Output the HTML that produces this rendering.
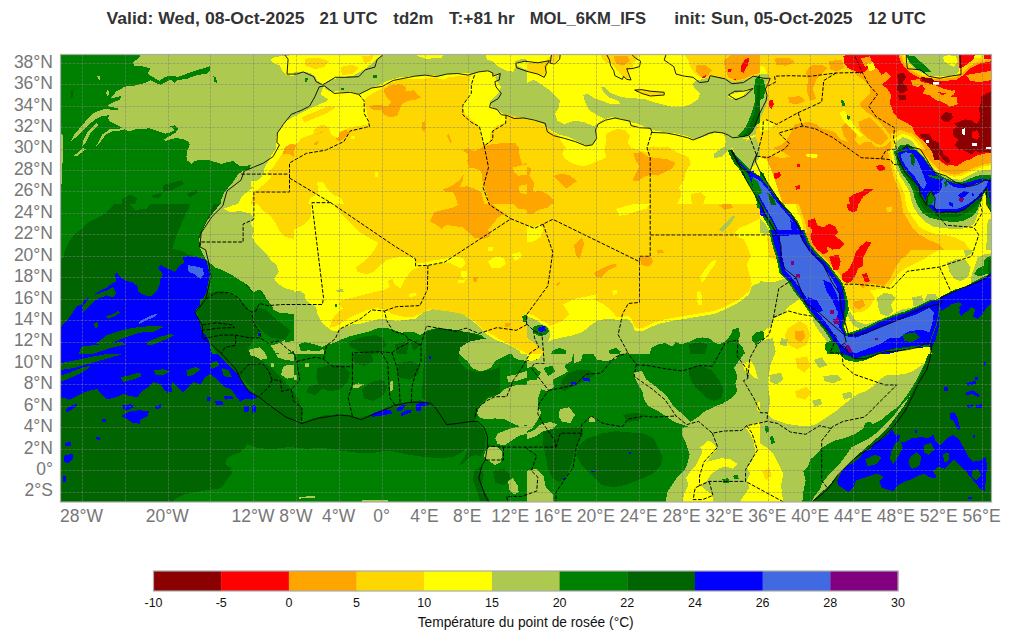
<!DOCTYPE html>
<html><head><meta charset="utf-8"><title>td2m</title>
<style>html,body{margin:0;padding:0;background:#fff}svg{display:block}text{font-family:"Liberation Sans",sans-serif}</style></head><body>
<svg width="1011" height="641" viewBox="0 0 1011 641">
<rect width="1011" height="641" fill="#fff"/>
<g font-weight="bold" font-size="16.5" fill="#333">
<text x="106.5" y="24.4" textLength="198.1" lengthAdjust="spacingAndGlyphs">Valid: Wed, 08-Oct-2025</text>
<text x="319.6" y="24.4" textLength="58.0" lengthAdjust="spacingAndGlyphs">21 UTC</text>
<text x="393.3" y="24.4" textLength="40.2" lengthAdjust="spacingAndGlyphs">td2m</text>
<text x="448.9" y="24.4" textLength="65.8" lengthAdjust="spacingAndGlyphs">T:+81 hr</text>
<text x="529.7" y="24.4" textLength="116.4" lengthAdjust="spacingAndGlyphs">MOL_6KM_IFS</text>
<text x="674.2" y="24.4" textLength="178.4" lengthAdjust="spacingAndGlyphs">init: Sun, 05-Oct-2025</text>
<text x="867.9" y="24.4" textLength="58.1" lengthAdjust="spacingAndGlyphs">12 UTC</text>
</g>
<defs><clipPath id="mapclip"><rect x="60.5" y="54.5" width="931.0" height="447.5"/></clipPath></defs>
<g clip-path="url(#mapclip)" shape-rendering="crispEdges">
<rect x="60.5" y="54.5" width="931.0" height="447.5" fill="#adc94f"/>
<clipPath id="tc0"><rect x="60" y="54" width="234" height="150"/></clipPath>
<g clip-path="url(#tc0)">
<rect x="60" y="54" width="234" height="150" fill="#adc94f"/>
<path d="M58.8,52.8 141.9,52.8 138.4,58.7 132.5,62.2 134.4,65.7 141.9,66.2 150.1,68.5 147.8,73.9 153.6,77.4 159.5,80.9 164.1,77.4 170.0,75.5 178.2,76.9 186.4,73.9 194.6,70.8 202.8,68.5 209.8,66.2 210.5,70.4 206.3,73.9 200.4,74.6 193.4,76.2 187.5,78.6 177.0,80.2 174.7,83.3 171.2,79.3 165.3,82.1 160.6,84.9 154.8,82.6 150.1,80.2 144.2,83.3 134.9,85.6 123.2,86.8 121.3,89.1 116.2,91.4 113.4,95.0 110.3,98.5 121.3,96.1 119.7,99.6 110.3,103.6 106.8,106.0 118.5,108.3 118.0,110.2 104.5,109.0 95.1,112.0 88.1,118.4 82.2,125.4 74.0,134.7 70.5,141.8 77.6,135.9 83.4,130.1 89.3,124.2 95.1,119.5 102.1,116.0 109.1,115.3 108.0,118.4 110.3,121.9 115.0,124.2 121.3,127.0 125.5,130.1 130.2,131.2 137.2,128.9 150.1,128.4 158.3,131.2 165.3,133.6 170.0,132.4 174.7,130.1 170.0,126.1 174.7,125.4 178.2,128.4 175.8,132.4 170.0,135.9 164.1,139.4 165.3,141.1 174.7,138.2 181.7,138.7 187.5,141.1 189.9,144.1 187.5,150.0 186.4,157.0 187.5,160.5 191.1,164.0 194.6,161.2 200.4,159.8 209.8,160.5 215.6,162.1 221.5,164.0 227.3,162.1 233.2,161.2 240.2,166.3 250.7,165.2 249.6,168.7 242.5,171.0 237.9,174.5 234.4,180.4 228.5,187.4 223.8,193.2 221.5,199.1 220.3,204.9 58.8,204.9Z" fill="#008000"/>
<path d="M123.2,128.4 110.3,128.9 102.1,134.7 97.4,144.1 95.1,147.6 99.8,142.9 105.6,134.7 112.7,131.2 124.4,130.1Z" fill="#adc94f"/>
<path d="M96.3,123.0 88.1,131.2 83.4,140.6 82.2,146.4 85.7,142.9 90.4,133.6 98.6,125.4Z" fill="#adc94f"/>
<path d="M83.4,147.6 74.0,155.8 76.4,156.5 85.7,149.5Z" fill="#adc94f"/>
<path d="M58.8,133.6 62.8,134.7 62.3,183.9 58.8,183.9Z" fill="#adc94f"/>
<path d="M97.4,76.2 100.3,75.5 99.8,79.7 98.1,79.3Z" fill="#adc94f"/>
<path d="M106.8,89.1 109.1,91.4 108.0,97.3 106.3,93.8Z" fill="#adc94f"/>
<path d="M213.3,76.2 216.3,77.4 216.8,82.6 214.5,82.1Z" fill="#008000"/>
<path d="M163.0,185.1 181.7,180.4 184.0,183.9 172.3,189.7 163.0,192.1Z" fill="#006400"/>
<path d="M151.3,195.6 163.0,192.5 160.6,197.2 153.6,198.6Z" fill="#006400"/>
<path d="M186.4,194.4 195.7,189.7 198.1,192.1 189.9,197.9Z" fill="#006400"/>
<path d="M122.0,199.1 130.2,194.4 137.2,197.9 134.9,204.9 122.0,204.9Z" fill="#006400"/>
<path d="M70.5,90.3 73.6,89.1 72.9,97.3 70.5,98.5Z" fill="#006400"/>
<path d="M294.0,55.2 282.3,55.9 274.1,57.5 270.2,59.9 274.1,63.4 280.0,65.7 282.3,70.4 285.8,74.6 294.0,76.2Z" fill="#ffff00"/>
<path d="M294.0,123.0 284.7,125.4 278.8,130.1 276.5,135.9 278.8,141.8 276.5,147.6 271.8,154.6 268.3,161.7 264.8,169.8 262.4,175.7 257.8,180.4 254.2,181.5 253.1,187.4 247.2,192.1 241.4,196.8 237.9,204.9 294.0,204.9Z" fill="#ffff00"/>
<path d="M250.7,180.4 254.2,181.5 253.8,187.4 250.7,186.2Z" fill="#ffff00"/>
<path d="M294.0,140.6 288.2,142.9 284.7,147.6 281.2,152.3 276.5,159.3 270.6,168.7 267.1,173.4 271.8,176.9 265.9,182.7 258.9,188.6 254.2,192.1 251.9,199.1 250.7,204.9 294.0,204.9Z" fill="#ffd700"/>
<path d="M294.0,144.1 287.0,145.3 282.3,150.0 283.5,154.6 288.2,153.5 294.0,157.0Z" fill="#ffa500"/>
</g>
<clipPath id="tc1"><rect x="294" y="54" width="233" height="150"/></clipPath>
<g clip-path="url(#tc1)">
<rect x="294" y="54" width="233" height="150" fill="#ffd700"/>
<path d="M292.8,52.8 385.3,52.8 374.7,61.0 367.7,66.9 361.9,70.8 353.7,75.5 340.8,77.4 329.1,80.2 323.3,85.6 315.1,84.4 292.8,84.4Z" fill="#ffff00"/>
<path d="M304.5,58.7 317.4,57.5 329.1,61.0 324.4,66.9 315.1,69.2 305.7,65.7Z" fill="#ffd700"/>
<path d="M340.8,66.9 352.5,64.5 358.4,68.0 352.5,73.9 342.0,75.1Z" fill="#ffd700"/>
<path d="M361.9,56.3 373.6,55.2 371.2,61.0 364.2,63.4Z" fill="#ffd700"/>
<path d="M292.8,110.2 317.4,82.1 364.2,89.1 387.6,77.4 411.0,73.9 434.4,73.9 457.8,70.4 471.9,71.6 471.9,75.1 457.8,76.2 448.5,77.4 443.8,79.7 434.4,77.4 425.1,78.6 411.0,78.6 399.3,79.7 390.0,83.3 382.9,87.9 373.6,92.6 366.5,97.3 364.2,100.8 361.9,104.3 354.8,106.7 347.8,105.0 340.8,106.7 333.8,109.0 326.8,110.2 322.1,113.7 315.1,118.4 308.0,123.0 303.4,126.5 298.7,131.2 292.8,134.7Z" fill="#ffff00"/>
<path d="M471.9,71.6 481.2,69.2 488.2,69.2 495.3,72.7 502.3,73.9 502.3,86.8 498.8,92.6 494.1,97.3 489.4,102.0 491.8,106.7 497.6,110.2 503.5,113.7 505.8,118.4 504.6,123.0 497.6,125.4 491.8,130.1 489.4,135.9 490.6,141.8 484.7,145.3 481.2,138.2 478.9,128.9 475.4,123.0 468.4,117.2 463.7,111.3 462.5,105.5 467.2,99.6 468.4,91.4 469.5,82.1 470.7,76.2Z" fill="#ffff00"/>
<path d="M316.2,181.5 323.3,182.2 326.8,188.6 332.6,194.4 340.8,197.9 344.3,204.9 308.0,204.9 310.4,197.9 317.4,194.4 318.6,187.4Z" fill="#ffff00"/>
<path d="M374.7,172.2 378.2,172.2 378.2,176.9 374.7,176.9Z" fill="#ffff00"/>
<path d="M351.3,135.9 354.8,135.9 354.4,139.4 351.3,139.4Z" fill="#ffff00"/>
<path d="M292.8,72.7 302.2,71.6 309.2,72.7 315.1,76.2 317.4,80.9 323.3,84.0 329.1,80.2 340.8,77.4 353.7,75.5 361.9,70.8 367.7,66.9 374.7,61.0 384.1,52.8 528.0,52.8 528.0,119.5 518.7,117.2 509.3,114.8 503.5,113.7 497.6,110.2 491.8,106.7 489.4,102.0 494.1,97.3 498.8,92.6 501.1,86.8 497.6,82.1 495.3,77.4 499.9,73.9 494.1,75.1 488.2,70.4 481.2,70.8 474.2,73.9 467.2,73.2 457.8,72.7 448.5,73.9 439.1,76.2 429.7,74.6 420.4,75.5 411.0,76.2 399.3,77.4 387.6,80.9 380.6,84.4 371.2,87.9 364.2,91.4 358.4,93.8 350.2,91.4 340.8,92.6 332.6,91.9 326.8,90.3 324.0,86.8 322.1,89.1 320.9,95.0 329.1,99.6 331.4,102.0 322.1,104.3 315.1,107.8 308.0,112.0 302.2,116.7 297.5,121.9 292.8,122.3Z" fill="#adc94f"/>
<path d="M484.7,52.8 487.1,59.9 492.9,61.0 498.8,66.9 505.8,70.4 512.8,71.6 516.3,66.9 515.2,61.0 522.2,58.7 528.0,59.9 528.0,52.8Z" fill="#ffff00"/>
<path d="M516.3,62.2 524.5,61.0 528.0,64.5 528.0,70.4 522.2,68.0 517.5,65.7Z" fill="#ffff00"/>
<path d="M415.7,52.8 443.8,52.8 441.4,58.2 425.1,58.7 418.0,56.3Z" fill="#ffff00"/>
<path d="M384.1,89.1 390.0,85.6 399.3,84.4 406.3,86.8 405.2,91.4 413.4,90.3 418.0,95.0 421.5,97.3 415.7,99.6 408.7,100.8 401.7,104.3 399.3,110.2 397.0,116.0 390.0,117.2 384.1,114.8 381.8,110.2 373.6,110.2 368.9,106.7 373.6,105.0 382.9,105.5 387.6,106.7 391.1,102.0 386.4,97.3 384.1,92.6Z" fill="#ffa500"/>
<path d="M483.6,146.4 492.9,144.1 504.6,142.9 515.2,142.9 518.7,147.6 519.8,157.0 522.2,164.0 528.0,162.8 528.0,204.9 489.4,204.9 487.1,194.4 484.7,187.4 482.4,180.4 481.2,171.0 476.5,168.7 469.5,167.5 467.2,161.7 468.4,154.6 462.5,150.0 467.2,148.8 475.4,151.1Z" fill="#ffa500"/>
<path d="M512.8,167.5 528.0,164.0 528.0,174.5 518.7,175.7 514.0,172.2Z" fill="#ffd700"/>
<path d="M518.7,186.2 528.0,183.9 528.0,194.4 519.8,193.2Z" fill="#ffd700"/>
<path d="M442.6,189.7 453.1,185.1 459.0,180.4 463.7,174.5 462.5,181.5 459.0,187.4 467.2,186.2 474.2,188.6 481.2,192.1 484.7,204.9 457.8,204.9 455.5,196.8 453.1,192.1 446.1,192.1Z" fill="#ffa500"/>
<path d="M313.9,130.1 320.9,126.5 325.6,127.7 322.1,132.4 316.2,134.7Z" fill="#ffa500"/>
<path d="M337.3,135.9 340.8,131.2 346.7,130.1 349.0,133.6 344.3,138.2 339.6,141.8 336.1,139.4Z" fill="#ffa500"/>
<path d="M421.5,121.9 424.6,121.4 425.1,131.2 422.2,130.1Z" fill="#ffa500"/>
<path d="M446.6,134.7 448.5,134.3 452.0,141.8 450.3,142.9Z" fill="#ffa500"/>
<path d="M313.9,142.9 319.7,140.6 317.4,144.1 314.6,145.7Z" fill="#ffa500"/>
<path d="M304.5,78.6 308.5,77.9 306.9,81.6 304.5,81.6Z" fill="#008000"/>
<path d="M372.4,74.6 377.1,74.6 377.1,77.9 373.6,77.9Z" fill="#008000"/>
<path d="M340.8,87.5 343.8,87.5 343.8,89.8 340.8,89.8Z" fill="#008000"/>
</g>
<clipPath id="tc2"><rect x="527" y="54" width="233" height="150"/></clipPath>
<g clip-path="url(#tc2)">
<rect x="527" y="54" width="233" height="150" fill="#ffff00"/>
<path d="M525.8,119.5 536.4,121.4 544.6,125.4 550.4,131.2 557.4,134.7 562.1,142.9 565.6,147.6 562.1,153.5 565.6,159.3 573.8,164.0 583.2,166.3 590.2,164.0 599.5,160.5 606.6,157.0 604.2,150.0 606.6,140.6 605.4,134.7 611.2,131.2 618.3,128.9 625.3,130.1 630.0,135.9 627.6,142.9 631.1,147.6 638.2,150.0 646.4,152.3 648.7,147.6 653.4,146.4 660.4,147.6 667.4,146.4 676.8,152.3 688.5,157.0 690.8,164.0 686.1,171.0 683.8,180.4 679.1,187.4 681.5,194.4 676.8,204.9 525.8,204.9Z" fill="#ffd700"/>
<path d="M690.8,194.4 700.2,192.1 706.0,196.8 702.5,204.9 692.0,204.9Z" fill="#ffd700"/>
<path d="M633.5,153.5 641.7,152.3 648.7,157.0 658.1,158.1 667.4,159.3 675.6,162.8 672.1,168.7 665.1,172.2 658.1,175.7 651.0,174.5 644.0,176.9 637.0,181.5 632.3,180.4 635.8,173.4 639.3,166.3 635.8,160.5Z" fill="#ffa500"/>
<path d="M553.9,175.7 562.1,173.4 570.3,175.7 577.3,181.5 572.6,183.9 566.8,188.6 562.1,185.1 557.4,180.4Z" fill="#ffa500"/>
<path d="M525.8,166.3 531.7,168.7 529.3,175.7 534.0,182.7 532.9,192.1 539.9,190.9 548.1,194.4 552.7,199.1 555.1,204.9 525.8,204.9Z" fill="#ffa500"/>
<path d="M525.8,83.3 534.0,79.7 541.0,84.4 548.1,89.1 555.1,95.0 559.8,100.8 558.6,107.8 555.1,113.7 557.4,120.7 564.4,124.2 573.8,120.7 583.2,121.9 589.0,124.2 593.7,126.5 597.2,124.2 604.2,118.4 594.9,113.7 589.0,110.2 586.7,105.5 584.3,99.6 583.2,95.0 587.8,93.8 594.9,98.5 601.9,100.8 611.2,104.3 620.6,104.3 618.3,100.8 608.9,97.3 603.1,91.4 600.7,86.8 604.2,86.8 610.1,92.6 618.3,96.1 627.6,98.0 637.0,98.5 646.4,99.6 653.4,102.0 662.7,104.3 672.1,106.7 681.5,107.4 690.8,104.3 697.8,99.6 700.2,93.8 695.5,89.1 692.0,84.4 695.5,80.9 704.9,78.6 714.2,76.2 721.2,77.4 728.3,79.7 735.3,82.1 744.6,79.7 754.0,76.2 761.0,73.9 761.0,133.6 751.7,135.9 747.0,138.2 737.6,137.1 725.9,134.7 721.2,132.4 711.9,133.6 702.5,137.1 694.3,139.4 686.1,135.9 676.8,133.6 667.4,132.4 658.1,131.2 648.7,128.9 639.3,124.2 630.0,121.9 620.6,118.4 611.2,117.2 604.2,119.5 598.4,124.2 596.0,131.2 597.2,138.2 592.5,144.1 586.7,145.3 578.5,141.8 569.1,137.1 559.8,134.7 550.4,130.1 543.4,124.2 536.4,120.7 525.8,118.4Z" fill="#adc94f"/>
<path d="M723.6,133.6 737.6,137.1 747.0,139.4 744.6,144.1 737.6,146.4 730.6,148.8 725.9,152.3 721.2,157.0 714.2,158.1 714.2,153.5 718.9,150.0 724.8,146.4 725.9,140.6Z" fill="#adc94f"/>
<path d="M732.9,147.6 761.0,133.6 761.0,154.6 755.2,164.0 750.5,169.8 745.8,168.7 740.0,162.8 735.3,155.8Z" fill="#adc94f"/>
<path d="M728.3,95.0 737.6,92.6 747.0,89.1 751.7,88.6 745.8,92.6 742.3,97.3 732.9,98.9 728.7,98.0Z" fill="#ffff00"/>
<path d="M634.7,89.1 644.0,90.3 655.7,91.4 663.9,91.9 662.7,94.3 653.4,95.7 644.0,94.3 635.8,91.9Z" fill="#ffd700"/>
<path d="M600.7,52.8 639.3,52.8 637.0,59.9 632.3,63.4 633.5,68.0 627.6,70.4 630.0,77.4 626.5,79.7 621.8,75.1 617.1,70.4 612.4,64.5 605.4,62.2 601.9,58.7Z" fill="#ffd700"/>
<path d="M613.6,56.3 627.6,55.9 630.0,61.0 623.0,65.7 615.9,63.4Z" fill="#ffa500"/>
<path d="M525.8,63.4 536.4,62.2 545.7,61.0 550.4,56.3 553.9,52.8 559.8,55.2 555.1,62.2 548.1,64.5 544.6,73.9 541.0,76.2 534.0,72.7 525.8,71.6Z" fill="#ffd700"/>
<path d="M683.8,52.8 688.5,61.0 690.8,68.0 695.5,73.9 700.2,77.4 704.9,78.6 714.2,76.2 721.2,77.4 728.3,79.7 735.3,82.1 744.6,79.7 754.0,76.2 761.0,73.9 761.0,52.8Z" fill="#ffd700"/>
<path d="M695.5,65.7 704.9,64.5 711.9,70.4 707.2,76.2 701.4,77.4 696.7,72.7Z" fill="#ffa500"/>
<path d="M723.6,61.0 732.9,52.8 761.0,52.8 761.0,72.7 751.7,75.1 744.6,78.6 735.3,80.9 728.3,77.4 725.9,70.4Z" fill="#ffa500"/>
<path d="M741.1,65.7 744.6,59.9 749.3,57.5 748.2,64.5 743.5,72.7 741.1,71.6Z" fill="#ff0000"/>
<path d="M728.3,69.2 731.8,68.5 731.1,71.6 728.3,71.6Z" fill="#ff0000"/>
<path d="M701.4,77.4 706.0,75.1 704.9,78.6Z" fill="#ff0000"/>
<path d="M732.9,78.6 736.5,78.6 735.3,80.2Z" fill="#ff0000"/>
<path d="M761.0,73.9 755.2,79.7 754.0,89.1 755.2,100.8 751.7,112.5 748.2,121.9 743.5,130.1 737.6,136.4 743.5,137.1 749.3,134.7 755.2,126.5 761.0,121.9Z" fill="#008000"/>
<path d="M757.5,84.4 761.0,83.3 761.0,114.8 755.2,124.2 749.3,133.6 743.5,135.9 749.3,126.5 754.0,114.8 756.3,100.8Z" fill="#006400"/>
<path d="M757.5,124.2 761.0,121.9 761.0,147.6 758.7,145.3 755.2,135.9Z" fill="#ffd700"/>
<path d="M727.8,150.0 731.1,149.5 735.3,157.0 740.0,164.0 745.8,169.8 750.5,171.0 751.7,175.7 757.5,185.1 761.0,188.6 761.0,204.9 757.5,204.9 755.2,196.8 750.5,187.4 744.6,178.0 738.8,168.7 732.9,160.5 729.4,154.6Z" fill="#008000"/>
<path d="M728.7,151.1 730.6,151.1 734.1,159.3 737.6,165.2 736.0,165.9 731.8,159.3Z" fill="#006400"/>
<path d="M748.2,173.4 752.8,176.9 757.5,186.2 761.0,189.7 761.0,204.9 758.7,204.9 756.3,196.8 751.7,187.4 748.2,179.2Z" fill="#006400"/>
<path d="M749.3,172.2 753.5,171.0 755.2,175.7 751.7,176.9Z" fill="#0000ff"/>
<path d="M757.5,190.9 761.0,189.7 761.0,200.3 758.2,199.1Z" fill="#0000ff"/>
</g>
<clipPath id="tc3"><rect x="760" y="54" width="233" height="150"/></clipPath>
<g clip-path="url(#tc3)">
<rect x="760" y="54" width="233" height="150" fill="#ffa500"/>
<path d="M758.8,52.8 845.4,52.8 844.2,63.4 853.6,72.7 863.0,79.7 870.0,86.8 870.0,93.8 864.1,99.6 859.5,104.3 865.3,111.3 872.3,116.0 879.4,121.9 885.2,128.9 889.9,134.7 891.1,140.6 886.4,145.3 879.4,147.6 874.7,146.4 871.2,141.8 865.3,141.8 859.5,145.3 854.8,140.6 857.1,132.4 853.6,124.2 846.6,121.9 841.9,126.5 843.1,134.7 847.8,141.8 840.7,139.4 834.9,132.4 829.0,130.1 822.0,128.9 816.2,124.2 809.1,121.9 802.1,123.0 795.1,124.2 791.6,131.2 786.9,139.4 781.1,145.3 774.0,147.6 769.4,152.3 758.8,154.6Z" fill="#ffd700"/>
<path d="M810.3,65.7 820.8,64.5 827.9,68.0 822.0,73.9 816.2,79.7 812.7,89.1 816.2,98.5 810.3,100.8 806.8,91.4 808.0,79.7 805.6,72.7Z" fill="#ffa500"/>
<path d="M829.0,61.0 841.9,59.9 844.2,68.0 837.2,71.6 830.2,69.2Z" fill="#ffa500"/>
<path d="M788.1,97.3 799.8,96.1 805.6,100.8 797.4,104.3 789.3,103.1Z" fill="#ffa500"/>
<path d="M858.3,121.9 870.0,117.2 881.7,128.9 888.7,138.2 881.7,145.3 874.7,142.9 867.7,138.2 860.6,131.2Z" fill="#ffa500"/>
<path d="M774.0,58.7 788.1,57.5 795.1,62.2 785.7,65.7 776.4,64.5Z" fill="#ffa500"/>
<path d="M758.8,121.9 767.0,120.7 774.0,124.2 769.4,128.9 762.3,131.2 758.8,132.4Z" fill="#ffff00"/>
<path d="M805.6,153.5 818.5,154.6 816.2,158.1 806.8,157.0Z" fill="#ffff00"/>
<path d="M839.6,112.5 844.2,110.2 848.9,117.2 853.6,124.2 858.3,131.2 863.0,135.9 859.5,137.1 853.6,131.2 846.6,124.2 841.9,118.4Z" fill="#ffff00"/>
<path d="M758.8,65.7 764.7,66.9 767.0,73.9 758.8,75.1Z" fill="#ffff00"/>
<path d="M758.8,73.9 768.2,73.9 769.4,77.4 765.9,83.3 765.9,93.8 768.2,98.5 765.9,105.5 762.3,114.8 758.8,121.9Z" fill="#adc94f"/>
<path d="M758.8,78.6 764.2,79.7 765.1,91.4 763.5,98.5 758.8,100.8Z" fill="#008000"/>
<path d="M768.9,100.8 772.2,99.6 774.0,104.3 771.7,109.0 768.9,106.7Z" fill="#ff0000"/>
<path d="M840.7,99.6 843.8,100.8 845.4,106.7 842.4,106.0Z" fill="#008000"/>
<path d="M847.1,115.3 850.1,116.7 849.4,120.0 847.1,119.1Z" fill="#008000"/>
<path d="M845.4,52.8 844.2,63.4 847.8,68.0 853.6,70.4 860.6,73.9 866.5,70.4 870.0,65.7 877.0,68.0 881.7,75.1 886.4,71.6 891.1,76.2 886.4,80.9 881.7,84.4 887.5,89.1 891.1,95.0 889.9,103.1 893.4,112.5 898.1,118.4 905.1,121.9 912.1,126.5 915.6,134.7 921.5,139.4 928.5,144.1 934.4,152.3 940.2,159.3 947.2,164.0 951.9,159.3 958.9,157.0 965.9,160.5 970.6,154.6 977.6,150.0 984.7,147.6 992.9,147.6 992.9,52.8Z" fill="#ff0000"/>
<path d="M898.1,52.8 900.4,61.0 905.1,68.0 912.1,73.9 921.5,78.6 933.2,80.9 944.9,80.9 956.6,79.7 963.6,75.1 970.6,68.0 980.0,63.4 992.9,61.0 992.9,52.8Z" fill="#ffa500"/>
<path d="M900.4,52.8 903.9,63.4 910.9,70.4 921.5,76.2 933.2,78.6 944.9,78.6 955.4,77.4 961.3,73.9 968.3,66.9 977.6,62.2 988.2,59.9 988.2,52.8Z" fill="#ffd700"/>
<path d="M902.8,52.8 906.3,62.2 913.3,68.0 922.6,74.6 933.2,76.9 944.9,76.9 954.7,75.8 960.1,72.3 961.3,63.4 970.6,58.7 980.0,57.5 984.7,52.8Z" fill="#ffff00"/>
<path d="M905.1,52.8 958.9,52.8 959.4,71.6 954.2,75.1 944.9,76.2 933.2,76.2 923.8,73.9 914.5,69.2 908.6,63.4Z" fill="#adc94f"/>
<path d="M906.3,55.2 914.5,56.3 923.8,64.5 930.8,71.6 923.8,72.7 915.6,68.0 909.8,62.2Z" fill="#008000"/>
<path d="M983.5,52.8 992.9,52.8 992.9,59.9 985.8,58.7Z" fill="#ff0000"/>
<path d="M944.9,96.1 956.6,97.3 957.8,104.3 949.6,106.7 944.9,102.0Z" fill="#ffa500"/>
<path d="M921.5,82.1 933.2,84.4 944.9,89.1 954.2,91.4 947.2,93.8 935.5,91.4 923.8,87.9Z" fill="#ffa500"/>
<path d="M965.9,75.1 992.9,70.4 992.9,79.7 980.0,82.1 970.6,80.9Z" fill="#ffa500"/>
<path d="M860.6,58.7 870.0,56.3 872.3,63.4 865.3,66.9Z" fill="#ffa500"/>
<path d="M898.1,73.9 903.9,72.7 906.3,77.4 902.8,82.1 905.1,89.1 900.4,93.8 896.9,89.1 898.1,82.1Z" fill="#8b0000"/>
<path d="M942.5,114.8 949.6,112.5 953.1,117.2 948.4,121.9 943.7,120.7Z" fill="#8b0000"/>
<path d="M984.7,93.8 992.9,91.4 992.9,147.6 984.7,146.4 977.6,145.3 971.8,140.6 965.9,133.6 961.3,128.9 963.6,121.9 970.6,119.5 976.5,124.2 981.2,119.5 982.3,110.2 983.5,100.8Z" fill="#8b0000"/>
<path d="M923.8,77.4 933.2,78.6 932.0,83.3 925.0,82.1Z" fill="#8b0000"/>
<path d="M954.2,144.1 963.6,142.9 965.9,147.6 958.9,150.0Z" fill="#8b0000"/>
<path d="M933.2,146.4 940.2,147.6 941.4,154.6 935.5,153.5Z" fill="#8b0000"/>
<path d="M919.1,133.6 928.5,134.7 927.3,139.4 921.5,138.2Z" fill="#8b0000"/>
<path d="M970.6,126.5 980.0,128.9 982.3,138.2 975.3,140.6 970.6,135.9Z" fill="#ff0000"/>
<path d="M891.1,133.6 900.4,130.1 912.1,133.6 920.3,141.8 927.3,152.3 934.4,161.7 942.5,168.7 950.7,172.9 958.9,173.8 968.3,170.5 977.6,165.9 992.9,161.7 992.9,204.9 894.6,204.9 893.4,185.1 891.1,171.0 889.9,159.3 890.6,147.6Z" fill="#ffd700"/>
<path d="M894.6,138.2 902.8,133.6 912.1,137.1 919.1,145.3 925.0,154.6 932.0,164.0 940.2,171.0 949.6,175.7 958.9,176.9 968.3,173.8 977.6,169.8 992.9,166.3 992.9,204.9 896.9,204.9 895.7,185.1 893.4,171.0 892.9,159.3 893.4,147.6Z" fill="#ffff00"/>
<path d="M895.7,141.8 902.8,137.1 910.9,140.1 916.8,147.6 922.6,157.0 929.7,166.3 937.9,173.4 947.2,178.0 958.9,179.9 968.3,177.6 977.6,173.8 992.9,171.0 992.9,204.9 901.6,204.9 900.4,189.7 898.1,175.7 895.7,164.0 894.6,152.3Z" fill="#adc94f"/>
<path d="M896.2,150.0 900.4,145.3 908.6,144.1 914.5,148.8 920.3,158.1 927.3,167.5 935.5,174.5 944.9,179.9 956.6,182.7 968.3,180.8 977.6,177.6 992.9,174.5 992.9,204.9 909.8,204.9 906.3,192.1 901.6,180.4 898.1,166.3 895.7,157.0Z" fill="#008000"/>
<path d="M897.6,152.3 901.6,147.6 907.9,145.7 913.3,150.0 919.1,159.3 926.2,168.7 934.4,175.7 943.7,181.5 955.4,184.6 967.1,183.2 977.6,179.9 992.9,176.9 992.9,204.9 913.3,204.9 909.8,194.4 905.1,182.7 900.4,168.7 898.1,159.3Z" fill="#006400"/>
<path d="M899.2,153.5 902.8,148.8 907.4,147.1 912.1,151.1 918.0,160.5 925.0,169.8 933.2,176.9 942.5,182.7 954.2,186.2 965.9,185.1 977.6,182.2 992.9,179.2 992.9,204.9 918.0,204.9 914.5,196.8 909.8,185.1 903.9,171.0 900.4,160.5Z" fill="#0000ff"/>
<path d="M909.8,157.0 914.5,159.3 921.5,168.7 928.5,175.7 937.9,182.7 947.2,187.4 958.9,188.6 970.6,187.4 982.3,185.1 992.9,182.7 992.9,204.9 923.8,204.9 921.5,196.8 916.8,185.1 912.1,173.4 909.8,164.0Z" fill="#4169e1"/>
<path d="M909.8,154.6 913.3,153.5 914.5,161.7 911.6,165.2 909.8,160.5Z" fill="#006400"/>
<path d="M923.8,180.4 930.8,178.0 937.9,185.1 944.9,189.7 940.2,194.4 933.2,192.1 927.3,187.4Z" fill="#0000ff"/>
<path d="M941.4,182.7 947.2,181.5 948.4,188.6 944.9,194.4 941.4,190.9Z" fill="#008000"/>
<path d="M923.8,193.2 932.0,194.4 933.2,204.9 925.0,204.9Z" fill="#006400"/>
<path d="M758.8,147.6 771.7,147.6 783.4,152.3 790.4,157.0 781.1,158.1 771.7,155.8 758.8,157.0Z" fill="#ffd700"/>
<path d="M758.8,157.0 767.0,159.3 771.7,171.0 776.4,185.1 781.1,199.1 783.4,204.9 775.2,204.9 772.9,196.8 768.2,185.1 763.5,173.4 758.8,171.0Z" fill="#ffff00"/>
<path d="M758.8,171.0 763.5,173.4 768.2,185.1 772.9,196.8 775.2,204.9 758.8,204.9Z" fill="#008000"/>
<path d="M758.8,175.7 762.8,178.0 767.0,188.6 771.2,199.1 772.9,204.9 758.8,204.9Z" fill="#006400"/>
<path d="M758.8,185.1 763.5,187.4 767.0,196.8 769.4,204.9 758.8,204.9Z" fill="#0000ff"/>
<path d="M875.8,166.3 881.7,164.5 885.2,168.7 879.4,171.0Z" fill="#ff0000"/>
<path d="M774.0,173.4 779.9,172.2 781.1,175.7 776.4,179.2 773.6,177.6Z" fill="#ff0000"/>
<path d="M795.1,186.2 799.8,185.1 800.3,188.6 796.3,189.7Z" fill="#ff0000"/>
<path d="M848.9,197.9 853.6,194.4 860.6,192.1 865.3,188.6 874.7,188.6 870.0,192.1 863.0,196.8 858.3,204.9 850.1,204.9Z" fill="#ff0000"/>
<path d="M797.4,164.0 799.8,164.0 799.8,166.8 797.4,166.8Z" fill="#ff0000"/>
</g>
<clipPath id="tc4"><rect x="60" y="204" width="234" height="150"/></clipPath>
<g clip-path="url(#tc4)">
<rect x="60" y="204" width="234" height="150" fill="#006400"/>
<path d="M58.8,202.8 113.8,202.8 112.7,206.3 102.1,215.7 88.1,222.7 81.1,229.7 74.0,234.4 69.4,241.4 64.7,250.8 63.5,257.8 58.8,260.2Z" fill="#008000"/>
<path d="M191.1,202.8 186.4,213.4 181.7,222.7 177.0,234.4 172.3,248.5 181.7,250.8 187.5,254.3 198.1,256.7 203.9,260.2 206.3,250.8 199.2,243.8 198.1,236.8 202.8,227.4 207.4,218.0 214.5,202.8Z" fill="#008000"/>
<path d="M127.9,202.8 151.3,202.8 146.6,208.7 134.9,209.9Z" fill="#008000"/>
<path d="M221.5,202.8 214.5,211.0 207.4,220.4 202.8,229.7 199.2,239.1 200.4,248.5 206.3,260.2 212.1,264.8 219.1,270.7 228.5,274.2 237.9,278.9 247.2,284.7 254.2,292.9 261.3,290.6 265.9,297.6 270.6,304.6 280.0,307.0 294.0,308.1 294.0,202.8Z" fill="#adc94f"/>
<path d="M206.3,260.2 214.5,267.2 223.8,270.7 234.4,276.5 244.9,283.6 251.9,292.9 260.1,289.4 264.8,297.6 270.6,304.6 278.8,304.6 294.0,309.3 294.0,354.9 212.1,354.9 207.4,335.1 200.4,321.0 194.6,311.7 200.4,304.6 206.3,292.9 209.8,274.2Z" fill="#008000"/>
<path d="M212.1,292.9 223.8,291.8 233.2,297.6 242.5,304.6 249.6,314.0 247.2,321.0 240.2,325.7 230.8,321.0 221.5,314.0 212.1,307.0 205.1,304.6Z" fill="#006400"/>
<path d="M254.2,307.0 265.9,309.3 275.3,318.7 284.7,325.7 290.5,331.5 284.7,339.7 270.6,337.4 261.3,330.4 254.2,321.0Z" fill="#006400"/>
<path d="M270.6,345.6 280.0,343.2 294.0,340.9 294.0,350.3 284.7,354.9 275.3,352.6Z" fill="#adc94f"/>
<path d="M271.8,304.6 294.0,304.6 294.0,314.0 280.0,312.8 273.0,309.3Z" fill="#adc94f"/>
<path d="M223.8,208.7 233.2,205.2 242.5,202.8 294.0,202.8 294.0,290.6 284.7,288.2 277.6,283.6 274.1,278.9 278.8,271.9 276.5,264.8 270.6,260.2 267.1,254.3 261.3,248.5 255.4,242.6 251.9,236.8 254.2,229.7 250.7,223.9 254.2,218.0 249.6,213.4 240.2,211.0 230.8,212.2Z" fill="#ffff00"/>
<path d="M256.6,202.8 263.6,211.0 270.6,215.7 275.3,222.7 280.0,232.1 285.8,236.8 294.0,239.1 294.0,202.8Z" fill="#ffd700"/>
<path d="M206.3,260.2 198.1,257.4 187.5,256.0 182.9,257.4 184.0,262.5 179.4,266.0 174.7,271.9 170.0,269.5 164.1,267.2 160.6,264.4 158.3,268.4 163.0,274.2 160.6,278.9 159.5,284.7 157.1,290.6 151.3,296.4 144.2,295.3 138.4,291.8 137.2,285.9 132.5,282.4 127.9,281.2 122.0,278.9 117.3,273.0 115.0,274.2 116.2,281.2 110.3,284.7 105.6,288.2 99.8,290.6 95.1,294.1 91.6,297.6 85.7,298.8 81.1,304.6 76.4,307.0 71.7,314.0 67.0,321.0 62.3,325.7 58.8,328.0 58.8,354.9 212.1,354.9 207.4,335.1 200.4,321.0 194.6,311.7 200.4,304.6 206.3,292.9 209.8,274.2Z" fill="#0000ff"/>
<path d="M90.4,296.4 106.8,290.6 112.7,287.1 116.2,292.9 113.8,297.6 106.8,295.3 97.4,298.8 88.1,307.0 83.4,311.7 82.2,307.0Z" fill="#006400"/>
<path d="M106.8,335.1 125.5,329.2 139.6,326.9 158.3,325.7 164.1,326.9 153.6,331.5 139.6,332.7 125.5,337.4 113.8,342.1 102.1,344.4 95.1,344.4Z" fill="#006400"/>
<path d="M146.6,342.1 158.3,337.4 170.0,333.9 174.7,335.1 165.3,339.7 153.6,344.4 146.6,345.6Z" fill="#006400"/>
<path d="M81.1,346.8 99.8,344.4 120.8,342.1 125.5,344.4 106.8,349.1 90.4,354.9 78.7,354.9Z" fill="#006400"/>
<path d="M93.9,323.4 97.4,322.2 98.6,326.9 95.1,328.0Z" fill="#006400"/>
<path d="M105.6,316.3 113.8,314.0 118.5,310.5 119.7,312.8 115.0,316.3 108.0,318.7Z" fill="#006400"/>
<path d="M200.4,298.8 212.1,297.6 209.8,303.5 200.4,305.8Z" fill="#008000"/>
<path d="M187.5,265.3 194.6,266.0 202.8,268.4 203.9,274.2 200.4,278.9 194.6,274.2 188.7,271.9Z" fill="#4169e1"/>
<path d="M138.4,322.2 148.9,316.3 157.1,313.5 156.0,315.9 147.8,319.8 139.6,323.8Z" fill="#4169e1"/>
<path d="M236.7,329.2 239.7,329.2 239.7,332.2 236.7,332.2Z" fill="#0000ff"/>
<path d="M257.8,332.7 260.8,332.7 260.8,336.2 257.8,336.2Z" fill="#0000ff"/>
</g>
<clipPath id="tc5"><rect x="294" y="204" width="233" height="150"/></clipPath>
<g clip-path="url(#tc5)">
<rect x="294" y="204" width="233" height="150" fill="#ffd700"/>
<path d="M292.8,229.7 303.4,225.1 310.4,218.0 311.6,202.8 332.6,202.8 340.8,213.4 350.2,222.7 359.5,232.1 371.2,239.1 378.2,242.6 374.7,249.6 370.1,255.5 364.2,261.3 356.0,267.2 357.2,271.9 366.5,274.2 373.6,271.9 379.4,266.0 386.4,260.2 394.6,257.8 404.0,256.7 413.4,256.7 415.7,262.5 425.1,262.5 434.4,260.2 443.8,259.0 453.1,256.7 462.5,257.8 466.0,263.7 461.3,268.4 455.5,266.0 448.5,262.5 439.1,263.7 429.7,265.3 421.5,266.7 413.4,269.5 408.7,274.2 404.0,281.2 400.5,288.2 394.6,284.7 392.3,278.9 387.6,281.2 390.0,287.1 385.3,289.4 375.9,291.8 366.5,294.1 357.2,296.4 347.8,298.8 340.8,300.0 338.5,304.6 343.1,308.1 336.1,314.0 331.4,321.0 329.1,331.5 292.8,331.5Z" fill="#ffff00"/>
<path d="M329.1,328.0 333.8,326.9 340.8,323.4 347.8,318.7 357.2,314.0 366.5,310.5 375.9,308.1 384.1,309.3 392.3,314.0 401.7,316.3 411.0,317.5 420.4,314.0 429.7,309.3 439.1,310.5 448.5,312.1 457.8,314.0 467.2,316.3 474.2,321.0 478.9,325.7 485.9,331.5 492.9,335.1 499.9,339.7 509.3,344.4 518.7,349.1 528.0,353.8 528.0,354.9 292.8,354.9 292.8,330.4 329.1,330.4Z" fill="#ffff00"/>
<path d="M292.8,291.8 299.9,291.1 304.5,294.1 305.7,300.0 310.4,303.5 316.2,307.0 317.4,314.0 320.9,321.0 326.8,326.9 331.4,330.4 336.1,331.5 343.1,328.0 352.5,324.5 361.9,323.4 371.2,321.0 380.6,318.7 387.6,319.8 397.0,321.0 406.3,319.8 415.7,318.7 422.7,312.8 432.1,309.3 441.4,310.5 453.1,312.1 462.5,314.0 469.5,318.7 475.4,323.4 481.2,329.2 488.2,335.1 495.3,339.7 504.6,343.2 512.8,346.8 518.7,350.3 522.2,354.9 292.8,354.9Z" fill="#adc94f"/>
<path d="M298.7,344.4 305.7,342.1 315.1,344.4 322.1,346.8 326.8,344.4 333.8,343.2 340.8,339.7 350.2,336.2 359.5,333.9 368.9,331.5 378.2,328.0 387.6,328.0 394.6,330.4 401.7,332.7 408.7,331.5 415.7,332.7 420.4,335.1 427.4,330.4 436.8,328.0 446.1,329.2 455.5,330.4 462.5,331.5 471.9,332.7 481.2,335.1 485.9,338.6 478.9,339.7 469.5,338.6 462.5,342.1 457.8,346.8 455.5,354.9 324.4,354.9 323.3,349.1 317.4,351.4 308.0,350.3 301.0,351.4Z" fill="#008000"/>
<path d="M347.8,342.1 357.2,338.6 366.5,336.2 375.9,335.1 382.9,338.6 387.6,344.4 382.9,349.1 375.9,354.9 364.2,354.9 357.2,350.3 350.2,346.8Z" fill="#006400"/>
<path d="M394.6,344.4 404.0,342.1 408.7,344.4 406.3,354.9 397.0,354.9Z" fill="#006400"/>
<path d="M411.0,342.1 418.0,339.7 420.4,344.4 415.7,350.3 412.2,349.1Z" fill="#006400"/>
<path d="M434.4,212.2 443.8,209.9 453.1,207.5 462.5,202.8 490.6,202.8 497.6,208.7 504.6,213.4 497.6,218.0 492.9,223.9 488.2,229.7 490.6,236.8 483.6,239.1 474.2,237.9 468.4,232.1 462.5,227.4 455.5,226.2 446.1,225.1 441.4,228.6 436.8,225.1 429.7,221.6Z" fill="#ffa500"/>
<path d="M511.6,202.8 528.0,202.8 528.0,209.9 518.7,208.7Z" fill="#ffa500"/>
<path d="M473.0,277.7 477.7,277.0 476.5,282.4 473.0,281.2Z" fill="#ffa500"/>
<path d="M504.6,323.4 510.5,322.9 509.3,326.9 505.1,326.9Z" fill="#ffa500"/>
<path d="M488.2,261.3 495.3,256.7 503.5,257.8 505.8,263.7 499.9,268.4 491.8,268.4Z" fill="#ffff00"/>
<path d="M511.6,254.3 519.8,252.0 522.2,256.7 515.2,261.3Z" fill="#ffff00"/>
<path d="M461.3,270.7 467.2,270.7 467.2,278.9 461.3,277.7Z" fill="#ffff00"/>
<path d="M457.8,280.1 464.8,279.4 464.8,282.4 457.8,283.1Z" fill="#ffff00"/>
<path d="M488.2,247.3 492.9,247.3 492.9,250.8 488.2,250.8Z" fill="#ffff00"/>
<path d="M408.7,294.1 415.7,292.5 416.9,295.3 409.8,297.6Z" fill="#ffff00"/>
<path d="M522.2,316.3 528.0,314.0 528.0,322.2 523.3,322.2Z" fill="#008000"/>
<path d="M336.1,290.1 343.1,288.7 343.6,291.8 337.3,292.5Z" fill="#adc94f"/>
<path d="M334.5,303.5 337.3,303.5 337.3,307.0 334.5,307.0Z" fill="#008000"/>
</g>
<clipPath id="tc6"><rect x="527" y="204" width="233" height="150"/></clipPath>
<g clip-path="url(#tc6)">
<rect x="527" y="204" width="233" height="150" fill="#ffd700"/>
<path d="M525.8,226.2 532.9,227.4 539.9,223.9 543.4,229.7 541.0,236.8 534.0,241.4 525.8,242.6Z" fill="#ffff00"/>
<path d="M615.9,208.7 625.3,206.3 639.3,202.8 651.0,202.8 646.4,208.7 637.0,211.0 627.6,214.5 619.4,215.7Z" fill="#ffff00"/>
<path d="M747.0,225.1 761.0,218.0 761.0,283.6 751.7,283.6 749.3,274.2 747.0,264.8 750.5,255.5 747.0,246.1 743.5,239.1 737.6,236.8 735.3,232.1 740.0,227.4Z" fill="#ffff00"/>
<path d="M700.2,276.5 704.9,269.5 711.9,261.3 716.6,259.0 715.4,263.7 709.5,271.9 704.9,280.1 701.4,282.4Z" fill="#ffff00"/>
<path d="M696.7,292.9 700.2,290.6 702.5,297.6 701.4,305.8 697.8,304.6Z" fill="#ffff00"/>
<path d="M563.3,304.6 573.8,298.8 587.8,296.4 597.2,294.1 594.9,300.0 604.2,304.6 613.6,312.8 617.1,318.7 606.6,317.5 597.2,319.8 587.8,325.7 578.5,332.7 566.8,336.2 552.7,338.6 545.7,344.4 525.8,347.9 525.8,331.5 538.7,331.5 550.4,325.7 562.1,321.0 569.1,314.0Z" fill="#ffff00"/>
<path d="M612.4,290.6 617.1,290.1 617.1,294.1 612.9,294.8Z" fill="#ffff00"/>
<path d="M525.8,313.3 534.0,315.6 541.0,320.3 549.2,325.0 550.4,332.0 548.1,339.0 552.7,336.7 562.1,334.4 573.8,332.0 583.2,328.5 590.2,322.7 597.2,318.0 606.6,315.6 618.3,316.8 627.6,315.6 632.3,320.3 634.7,327.3 641.7,328.5 651.0,323.8 660.4,320.3 672.1,318.0 686.1,315.6 700.2,313.3 714.2,311.0 725.9,306.3 735.3,301.6 742.3,296.9 749.3,291.1 751.7,282.9 761.0,279.4 761.0,354.9 525.8,354.9Z" fill="#ffff00"/>
<path d="M525.8,338.6 536.4,339.7 543.4,346.8 546.9,354.9 525.8,354.9Z" fill="#ffd700"/>
<path d="M525.8,316.3 534.0,318.7 541.0,323.4 549.2,328.0 550.4,335.1 548.1,342.1 552.7,339.7 562.1,337.4 573.8,335.1 583.2,331.5 590.2,325.7 597.2,321.0 606.6,318.7 618.3,319.8 627.6,318.7 632.3,323.4 634.7,330.4 641.7,331.5 651.0,326.9 660.4,323.4 672.1,321.0 686.1,318.7 700.2,316.3 714.2,314.0 725.9,309.3 735.3,304.6 742.3,300.0 749.3,294.1 751.7,285.9 761.0,282.4 761.0,354.9 545.7,354.9 541.0,349.1 534.0,342.1 525.8,337.4Z" fill="#adc94f"/>
<path d="M550.4,354.9 552.7,350.3 559.8,347.9 565.6,350.3 566.8,354.9Z" fill="#008000"/>
<path d="M608.9,350.3 615.9,347.9 620.6,351.4 619.4,354.9 610.1,354.9Z" fill="#008000"/>
<path d="M649.9,354.9 651.0,347.9 658.1,344.4 665.1,343.2 672.1,346.8 675.6,342.1 681.5,344.4 688.5,342.1 695.5,338.6 702.5,337.4 709.5,338.6 714.2,342.1 718.9,344.4 725.9,340.9 730.6,335.1 732.9,329.2 738.8,328.0 740.0,335.1 737.6,342.1 742.3,346.8 745.8,354.9Z" fill="#008000"/>
<path d="M752.8,335.1 757.5,331.5 761.0,331.5 761.0,346.8 755.2,344.4 751.7,339.7Z" fill="#008000"/>
<path d="M532.9,326.9 539.9,324.5 546.9,326.9 549.2,331.5 545.7,335.1 538.7,336.2 534.0,332.7Z" fill="#008000"/>
<path d="M538.7,326.9 544.6,326.2 546.2,330.4 541.0,332.2 538.2,330.4Z" fill="#0000ff"/>
<path d="M688.5,344.4 700.2,342.1 707.2,344.4 704.9,354.9 690.8,354.9Z" fill="#006400"/>
<path d="M525.8,202.8 552.7,202.8 548.1,207.5 538.7,209.9 531.7,214.5 525.8,213.4Z" fill="#ffa500"/>
<path d="M573.8,245.0 582.0,237.9 584.3,243.8 582.0,250.8 579.7,259.0 576.1,255.5Z" fill="#ffa500"/>
<path d="M593.7,273.0 604.2,267.2 614.8,263.7 617.1,266.0 607.7,270.7 600.7,277.7 596.0,276.5Z" fill="#ffa500"/>
<path d="M639.3,256.7 649.9,255.5 653.4,261.3 649.9,266.0 641.7,265.3Z" fill="#ffa500"/>
<path d="M656.9,249.6 662.7,249.6 663.9,252.7 658.1,253.6Z" fill="#ffa500"/>
<path d="M718.9,205.2 730.6,202.8 732.9,207.5 724.8,209.9Z" fill="#ffa500"/>
<path d="M556.3,283.6 559.8,282.4 559.3,284.7 556.7,285.9Z" fill="#ffa500"/>
<path d="M755.2,202.8 761.0,202.8 761.0,209.9 757.5,207.5Z" fill="#008000"/>
<path d="M718.9,229.7 725.9,222.7 732.9,215.7 735.3,216.9 729.4,225.1 722.4,232.1Z" fill="#adc94f"/>
</g>
<clipPath id="tc7"><rect x="760" y="204" width="233" height="150"/></clipPath>
<g clip-path="url(#tc7)">
<rect x="760" y="204" width="233" height="150" fill="#ffff00"/>
<path d="M795.1,202.8 923.8,202.8 921.5,213.4 923.8,222.7 928.5,229.7 940.2,234.4 947.2,241.4 942.5,248.5 933.2,253.1 923.8,259.0 914.5,263.7 905.1,268.4 898.1,274.2 893.4,281.2 888.7,287.1 877.0,289.4 867.7,290.6 863.0,295.3 857.1,297.6 853.6,292.9 848.9,288.2 843.1,284.7 837.2,276.5 830.2,268.4 823.2,260.2 816.2,254.3 810.3,250.8 804.5,245.0 802.1,236.8 803.3,227.4 801.0,218.0 797.4,211.0Z" fill="#ffd700"/>
<path d="M798.6,202.8 909.8,202.8 907.4,211.0 902.8,218.0 906.3,227.4 912.1,234.4 915.6,241.4 912.1,248.5 907.4,254.3 900.4,260.2 895.7,267.2 892.2,274.2 888.7,281.2 884.0,285.9 877.0,284.7 868.8,283.6 863.0,288.2 858.3,283.6 848.9,282.4 844.2,281.2 839.6,274.2 832.5,267.2 826.7,260.2 820.8,254.3 813.8,250.8 808.0,246.1 805.6,239.1 806.8,229.7 804.5,220.4 801.0,211.0Z" fill="#ffa500"/>
<path d="M846.6,202.8 858.3,202.8 857.1,211.0 852.4,212.2 847.8,209.9Z" fill="#ff0000"/>
<path d="M808.0,220.4 815.0,218.0 817.3,225.1 823.2,227.4 829.0,223.9 834.9,226.2 838.4,232.1 834.9,235.6 840.7,240.3 844.2,243.8 839.6,248.5 832.5,249.6 826.7,246.1 827.9,252.0 823.2,254.3 817.3,249.6 812.7,243.8 810.3,236.8 812.7,229.7 808.0,226.2Z" fill="#ff0000"/>
<path d="M829.0,256.7 838.4,254.3 840.7,261.3 838.4,269.5 833.7,270.7 831.4,263.7Z" fill="#ff0000"/>
<path d="M853.6,259.0 856.0,252.0 860.6,246.1 866.5,241.4 871.2,242.6 866.5,250.8 863.0,257.8 863.0,266.0 858.3,268.4 856.0,274.2 852.4,280.1 847.8,283.6 841.9,280.1 841.9,274.2 847.8,270.7 851.3,264.8Z" fill="#ff0000"/>
<path d="M861.8,274.2 866.5,273.0 870.0,281.2 865.3,282.4Z" fill="#ff0000"/>
<path d="M852.4,303.5 854.8,303.5 854.8,305.8 852.4,305.8Z" fill="#ff0000"/>
<path d="M877.0,297.6 884.0,292.9 891.1,294.1 895.7,297.6 891.1,304.6 893.4,311.7 887.5,316.3 880.5,314.0 878.2,307.0Z" fill="#adc94f"/>
<path d="M912.1,297.6 921.5,295.3 923.8,302.3 919.1,307.0 913.3,305.8Z" fill="#adc94f"/>
<path d="M846.6,314.0 853.6,325.7 863.0,330.4 877.0,325.7 891.1,318.7 905.1,312.8 919.1,308.1 930.8,302.3 937.9,297.6 935.5,294.1 927.3,294.1 923.8,302.3 914.5,307.0 902.8,309.3 891.1,315.2 877.0,321.0 865.3,324.5 856.0,321.0 850.1,311.7Z" fill="#adc94f"/>
<path d="M846.6,284.7 858.3,285.9 870.0,290.6 874.7,297.6 870.0,307.0 863.0,311.7 853.6,312.8 848.9,307.0 846.6,297.6 844.2,290.6Z" fill="#ffd700"/>
<path d="M853.6,301.1 863.0,300.0 865.3,305.8 859.5,309.3 853.6,307.0Z" fill="#ffa500"/>
<path d="M921.5,211.0 928.5,218.0 937.9,223.9 947.2,225.1 958.9,226.2 970.6,225.1 978.8,218.0 980.0,227.4 978.8,236.8 975.3,246.1 970.6,254.3 965.9,256.7 963.6,250.8 967.1,243.8 961.3,241.4 951.9,239.1 944.9,235.6 937.9,232.1 928.5,227.4 922.6,220.4Z" fill="#adc94f"/>
<path d="M947.2,262.5 956.6,259.0 965.9,260.2 970.6,267.2 968.3,276.5 961.3,281.2 954.2,278.9 949.6,271.9Z" fill="#adc94f"/>
<path d="M977.6,257.8 984.7,254.3 992.9,253.1 992.9,274.2 984.7,276.5 977.6,281.2 970.6,283.6 971.8,274.2 975.3,264.8Z" fill="#adc94f"/>
<path d="M984.7,259.0 992.9,254.3 992.9,275.4 985.8,274.2 980.0,276.5 974.1,274.2 977.6,268.4 983.5,266.0Z" fill="#008000"/>
<path d="M988.2,260.2 992.9,257.8 992.9,274.2 988.2,271.9Z" fill="#006400"/>
<path d="M922.6,202.8 926.2,209.9 933.2,215.7 942.5,220.4 954.2,222.7 965.9,221.6 975.3,216.9 980.0,208.7 978.8,202.8Z" fill="#008000"/>
<path d="M925.0,202.8 928.5,209.9 935.5,214.5 944.9,218.5 954.2,220.4 964.8,219.2 973.0,215.2 976.5,207.5 976.5,202.8Z" fill="#006400"/>
<path d="M928.5,202.8 932.0,208.7 937.9,212.9 947.2,215.7 956.6,215.7 963.6,213.4 968.3,208.7 969.5,202.8Z" fill="#0000ff"/>
<path d="M933.2,202.8 937.9,208.7 947.2,212.2 954.2,211.0 958.9,206.3 960.1,202.8Z" fill="#4169e1"/>
<path d="M987.0,202.8 992.9,202.8 992.9,211.0 989.3,208.7Z" fill="#0000ff"/>
<path d="M758.8,218.0 764.7,222.7 769.4,232.1 767.0,234.4 758.8,232.1Z" fill="#adc94f"/>
<path d="M769.4,241.4 776.4,239.1 778.7,248.5 774.0,255.5 769.4,250.8Z" fill="#ffa500"/>
<path d="M767.0,236.8 778.7,235.6 782.2,250.8 777.6,260.2 769.4,257.8Z" fill="#ffd700"/>
<path d="M758.8,281.2 774.0,282.4 783.4,278.9 790.4,278.9 797.4,285.9 801.0,297.6 795.1,302.3 788.1,307.0 783.4,314.0 774.0,318.7 771.7,325.7 764.7,330.4 758.8,335.1Z" fill="#adc94f"/>
<path d="M788.1,328.0 799.8,321.0 806.8,325.7 810.3,335.1 806.8,344.4 797.4,349.1 788.1,344.4 784.6,336.2Z" fill="#ffd700"/>
<path d="M795.1,331.5 803.3,330.4 805.6,337.4 799.8,342.1 795.1,338.6Z" fill="#ffa500"/>
<path d="M813.8,314.0 820.8,318.7 830.2,328.0 837.2,337.4 839.6,344.4 830.2,346.8 825.5,339.7 818.5,330.4 812.7,321.0Z" fill="#adc94f"/>
<path d="M825.5,342.1 839.6,339.7 843.1,349.1 837.2,354.9 827.9,354.9 825.5,347.9Z" fill="#008000"/>
<path d="M758.8,330.4 763.5,331.5 764.7,344.4 758.8,349.1Z" fill="#008000"/>
<path d="M758.8,202.8 782.2,202.8 791.6,213.4 798.6,222.7 803.3,234.4 808.0,246.1 815.0,253.1 822.0,260.2 829.0,269.5 836.1,278.9 843.1,288.2 847.1,297.6 848.9,309.3 846.1,318.7 843.8,328.0 846.6,332.7 853.6,333.9 863.0,331.5 877.0,326.2 891.1,319.1 905.1,313.3 919.1,308.6 930.8,302.8 942.5,295.7 954.2,289.9 965.9,286.4 975.3,280.8 984.7,276.1 992.9,273.7 992.9,354.9 932.0,354.9 928.5,344.4 909.8,345.6 891.1,350.3 872.3,354.9 846.6,354.9 840.7,344.4 838.4,337.4 833.7,330.4 824.4,323.4 815.0,316.3 808.0,309.3 801.0,297.6 793.9,283.6 784.6,271.9 782.2,257.8 777.6,243.8 770.5,229.7 763.5,218.0 758.8,209.9Z" fill="#008000"/>
<path d="M758.8,202.8 779.9,202.8 789.3,213.4 796.3,222.7 801.0,234.4 805.6,246.1 812.7,254.3 819.7,261.3 826.7,270.7 833.7,280.1 840.7,289.4 844.7,297.6 846.1,309.3 843.8,318.7 841.9,328.0 844.7,335.1 853.6,336.2 863.0,333.9 877.0,328.5 891.1,321.5 905.1,315.6 919.1,311.0 930.8,305.1 942.5,298.1 954.2,292.2 965.9,288.7 975.3,283.1 984.7,278.4 992.9,276.1 992.9,354.9 934.4,354.9 929.7,346.8 909.8,347.2 891.1,351.9 877.0,354.9 848.9,354.9 843.1,344.4 840.3,337.4 835.4,329.2 826.7,322.2 817.3,315.2 810.3,308.1 803.3,296.4 796.3,282.4 786.9,270.7 784.6,257.8 779.9,243.8 772.9,229.7 765.9,218.0 758.8,212.2Z" fill="#006400"/>
<path d="M758.8,202.8 778.3,202.8 787.6,213.4 794.6,222.7 799.3,234.4 804.0,246.1 811.0,255.5 818.0,262.5 825.1,271.9 832.1,281.2 839.1,290.6 842.4,297.6 843.8,309.3 841.9,318.7 840.3,328.0 843.3,336.9 853.6,337.9 863.0,335.5 877.0,330.4 891.1,323.4 905.1,317.5 919.1,312.8 930.8,307.0 939.0,302.3 940.2,311.7 939.0,325.7 935.5,339.7 932.0,346.8 909.8,348.6 891.1,353.3 881.7,354.9 851.3,354.9 844.7,344.4 841.9,337.4 836.8,328.5 828.3,321.0 819.0,314.0 812.0,307.0 804.9,295.3 797.9,281.2 788.6,269.5 786.2,257.8 781.5,243.8 774.5,229.7 767.5,218.0 758.8,214.5Z" fill="#0000ff"/>
<path d="M764.7,208.7 777.6,207.5 785.7,215.7 792.8,225.1 797.4,236.8 802.1,248.5 809.1,257.8 816.2,264.8 823.2,274.2 830.2,283.6 836.1,291.8 838.4,297.6 837.2,304.6 830.2,302.3 825.5,297.6 820.8,302.3 827.9,309.3 834.9,314.0 839.6,321.0 839.6,328.0 842.4,336.2 848.9,338.6 858.3,337.4 867.7,335.1 881.7,331.5 895.7,325.7 909.8,318.7 923.8,314.0 933.2,309.3 936.7,307.0 936.7,316.3 933.2,325.7 923.8,328.0 912.1,330.4 900.4,335.1 891.1,339.7 881.7,342.1 872.3,344.4 863.0,344.4 853.6,346.8 847.8,344.4 843.1,338.6 838.4,331.5 830.2,323.4 820.8,316.3 813.8,309.3 806.8,297.6 799.8,283.6 790.4,271.9 787.6,257.8 782.9,243.8 775.9,229.7 768.9,218.0Z" fill="#4169e1"/>
<path d="M818.5,288.2 830.2,285.9 837.2,295.3 839.6,304.6 832.5,302.3 826.7,296.4 819.7,297.6 815.0,292.9Z" fill="#0000ff"/>
<path d="M895.7,335.1 909.8,331.5 921.5,332.7 923.8,339.7 919.1,344.4 909.8,346.8 900.4,344.4Z" fill="#0000ff"/>
<path d="M905.1,337.4 914.5,335.1 916.8,339.7 909.8,343.2Z" fill="#006400"/>
<path d="M940.2,297.6 954.2,292.9 965.9,289.4 975.3,284.7 984.7,281.2 992.9,280.1 992.9,302.3 987.0,307.0 982.3,314.0 977.6,318.7 973.0,316.3 975.3,309.3 970.6,307.0 965.9,311.7 961.3,316.3 958.9,311.7 963.6,304.6 958.9,302.3 949.6,304.6 942.5,307.0Z" fill="#0000ff"/>
<path d="M790.4,262.5 793.9,262.5 793.9,266.0 790.4,266.0Z" fill="#800080"/>
<path d="M795.1,274.2 798.6,273.7 799.1,277.0 795.6,277.5Z" fill="#800080"/>
<path d="M832.5,318.7 838.4,318.2 839.6,322.2 834.9,323.4Z" fill="#800080"/>
<path d="M830.2,310.5 833.7,310.5 833.7,312.8 830.2,312.8Z" fill="#800080"/>
<path d="M874.7,337.9 878.2,337.9 878.2,340.2 874.7,340.2Z" fill="#800080"/>
<path d="M843.1,344.4 847.8,344.4 848.9,349.1 844.7,349.1Z" fill="#800080"/>
</g>
<clipPath id="tc8"><rect x="60" y="354" width="234" height="149"/></clipPath>
<g clip-path="url(#tc8)">
<rect x="60" y="354" width="234" height="149" fill="#006400"/>
<path d="M294.0,446.4 284.7,447.6 275.3,448.8 265.9,448.8 256.6,447.6 247.2,444.1 244.9,447.6 240.2,452.3 233.2,454.6 227.3,458.1 225.0,464.0 230.8,467.5 232.0,473.4 227.3,479.2 223.8,485.1 219.1,488.6 209.8,489.7 195.7,492.1 184.0,494.4 177.0,497.9 170.0,503.8 294.0,503.8Z" fill="#008000"/>
<path d="M58.8,352.8 223.8,352.8 228.5,361.0 234.4,368.0 237.9,375.1 242.5,382.1 247.2,389.1 254.2,395.0 257.8,397.3 251.9,399.6 244.9,398.5 240.2,402.0 235.5,395.0 230.8,389.1 223.8,386.8 219.1,382.1 214.5,377.4 209.8,373.9 205.1,377.4 200.4,384.4 193.4,382.1 187.5,387.9 182.9,392.6 177.0,386.8 172.3,382.1 170.0,389.1 165.3,391.4 160.6,384.4 153.6,382.1 148.9,386.8 141.9,391.4 137.2,397.3 130.2,396.1 123.2,393.8 116.2,397.3 106.8,399.6 102.1,395.0 97.4,389.1 90.4,390.3 83.4,392.6 76.4,396.1 69.4,399.6 62.3,397.3 58.8,398.5Z" fill="#0000ff"/>
<path d="M58.8,363.4 71.7,361.0 88.1,357.5 106.8,354.0 123.2,354.0 106.8,358.7 90.4,363.4 74.0,368.0 58.8,370.4Z" fill="#006400"/>
<path d="M58.8,376.2 69.4,372.7 81.1,368.0 90.4,365.7 85.7,370.4 76.4,375.1 67.0,379.7 58.8,382.1Z" fill="#006400"/>
<path d="M209.8,363.4 216.8,361.0 219.1,365.7 212.1,369.2Z" fill="#006400"/>
<path d="M221.5,368.0 228.5,370.4 232.0,377.4 223.8,376.2Z" fill="#006400"/>
<path d="M120.8,377.4 130.2,375.1 139.6,372.7 141.9,376.2 132.5,379.7 123.2,382.1Z" fill="#006400"/>
<path d="M153.6,370.4 163.0,369.2 170.0,371.6 163.0,375.1 156.0,375.1Z" fill="#006400"/>
<path d="M186.4,370.4 195.7,366.9 200.4,369.2 193.4,375.1 187.5,376.2Z" fill="#006400"/>
<path d="M120.8,416.0 130.2,411.3 139.6,410.2 148.9,411.3 147.8,416.0 140.7,419.5 139.6,423.7 132.5,423.0 127.9,419.5Z" fill="#0000ff"/>
<path d="M65.9,409.0 71.7,405.5 77.6,403.6 76.4,406.7 70.5,410.2 66.6,412.0Z" fill="#0000ff"/>
<path d="M122.0,405.5 130.2,404.3 134.9,406.7 127.9,410.2 123.2,409.0Z" fill="#0000ff"/>
<path d="M154.8,406.7 160.6,404.3 161.1,407.4 156.0,409.7Z" fill="#0000ff"/>
<path d="M214.5,400.8 221.5,400.8 223.8,404.3 216.8,405.5Z" fill="#0000ff"/>
<path d="M243.7,406.7 248.4,405.5 249.1,411.3 244.4,412.0Z" fill="#0000ff"/>
<path d="M251.4,406.0 255.4,405.0 256.1,412.0 252.4,413.0Z" fill="#0000ff"/>
<path d="M223.8,396.1 232.0,395.7 233.2,398.9 225.0,399.6Z" fill="#0000ff"/>
<path d="M64.7,442.9 70.5,441.8 71.2,445.7 65.1,446.4Z" fill="#0000ff"/>
<path d="M63.5,455.8 72.9,453.5 73.6,458.1 68.2,462.8 63.5,462.1Z" fill="#0000ff"/>
<path d="M62.8,475.7 65.9,475.7 65.9,481.5 63.5,481.5Z" fill="#0000ff"/>
<path d="M96.3,437.1 100.3,436.4 100.3,439.4 96.7,439.9Z" fill="#0000ff"/>
<path d="M102.1,419.1 105.6,419.1 105.6,421.9 102.1,421.9Z" fill="#0000ff"/>
<path d="M166.5,388.6 171.9,387.9 172.3,391.9 167.2,392.6Z" fill="#0000ff"/>
<path d="M207.4,397.3 210.9,397.3 210.9,400.8 207.4,400.8Z" fill="#0000ff"/>
<path d="M223.8,352.8 230.8,363.4 237.9,373.9 246.1,386.8 254.2,392.6 261.3,389.1 270.6,391.4 280.0,398.5 294.0,400.8 294.0,352.8Z" fill="#008000"/>
<path d="M253.1,352.8 265.9,352.8 267.1,358.7 258.9,359.9 254.2,357.5Z" fill="#adc94f"/>
<path d="M275.3,352.8 294.0,352.8 294.0,361.0 284.7,359.9 277.6,357.5Z" fill="#adc94f"/>
<path d="M284.7,365.7 294.0,364.5 294.0,377.4 287.0,378.6 281.2,375.1 282.3,369.2Z" fill="#adc94f"/>
<path d="M270.6,363.4 274.1,362.9 274.1,366.9 270.6,366.9Z" fill="#adc94f"/>
</g>
<clipPath id="tc9"><rect x="294" y="354" width="233" height="149"/></clipPath>
<g clip-path="url(#tc9)">
<rect x="294" y="354" width="233" height="149" fill="#008000"/>
<path d="M292.8,421.9 301.0,423.0 312.7,418.4 324.4,415.3 336.1,414.4 347.8,415.3 359.5,417.7 368.9,415.3 378.2,411.3 387.6,406.7 397.0,403.6 408.7,402.0 420.4,400.3 429.7,403.1 436.8,409.0 443.8,418.4 448.5,423.7 457.8,421.9 467.2,420.7 474.2,419.5 478.9,424.2 483.6,428.9 485.9,438.2 484.7,447.6 481.2,457.0 476.5,454.6 469.5,457.0 462.5,464.0 457.8,466.3 461.3,461.7 466.0,454.6 467.2,447.6 462.5,452.3 453.1,457.0 439.1,458.1 425.1,457.0 411.0,455.1 397.0,452.3 387.6,450.4 378.2,452.3 364.2,453.5 350.2,451.8 336.1,450.0 322.1,447.6 308.0,448.8 292.8,447.6Z" fill="#006400"/>
<path d="M425.1,382.1 434.4,377.4 446.1,379.7 457.8,382.1 467.2,379.7 476.5,386.8 485.9,393.8 481.2,400.8 476.5,410.2 474.2,419.5 467.2,420.7 457.8,421.9 448.5,423.7 443.8,418.4 436.8,409.0 429.7,403.1 425.1,396.1 422.7,389.1Z" fill="#006400"/>
<path d="M317.4,368.0 331.4,364.5 343.1,365.7 350.2,372.7 347.8,382.1 340.8,389.1 329.1,391.4 319.7,386.8 316.2,377.4Z" fill="#006400"/>
<path d="M308.0,386.8 317.4,384.4 322.1,389.1 315.1,395.0 306.9,392.6Z" fill="#006400"/>
<path d="M361.9,389.1 371.2,382.1 382.9,379.7 387.6,386.8 382.9,396.1 373.6,400.8 364.2,398.5Z" fill="#006400"/>
<path d="M397.0,363.4 411.0,361.0 420.4,365.7 418.0,375.1 408.7,379.7 399.3,377.4Z" fill="#006400"/>
<path d="M352.5,352.8 371.2,352.8 373.6,361.0 364.2,365.7 354.8,363.4Z" fill="#006400"/>
<path d="M474.2,471.0 481.2,466.3 483.6,475.7 481.2,485.1 488.2,496.8 490.6,503.8 481.2,503.8 476.5,489.7 473.0,480.4Z" fill="#006400"/>
<path d="M492.9,471.0 504.6,468.7 511.6,475.7 504.6,485.1 495.3,482.7Z" fill="#006400"/>
<path d="M457.8,352.8 467.2,361.0 471.9,368.0 481.2,371.6 490.6,368.0 495.3,361.0 504.6,356.3 511.6,352.8Z" fill="#adc94f"/>
<path d="M511.6,352.8 528.0,352.8 528.0,361.0 518.7,359.9 514.0,357.5Z" fill="#adc94f"/>
<path d="M507.0,376.2 514.0,375.1 528.0,370.4 528.0,377.4 516.3,380.9 508.1,382.1Z" fill="#adc94f"/>
<path d="M481.2,405.5 488.2,398.5 497.6,395.0 504.6,389.1 514.0,385.6 528.0,384.4 528.0,424.2 521.0,426.5 514.0,424.2 504.6,419.5 495.3,418.4 485.9,419.5 478.9,417.2 476.5,411.3Z" fill="#adc94f"/>
<path d="M497.6,433.6 509.3,428.9 518.7,426.5 528.0,425.4 528.0,433.6 518.7,435.9 511.6,440.6 504.6,445.3 497.6,444.1 495.3,438.2Z" fill="#adc94f"/>
<path d="M484.7,452.3 488.2,447.6 497.6,446.4 502.3,452.3 501.1,461.7 495.3,465.2 488.2,460.5 484.0,457.0Z" fill="#adc94f"/>
<path d="M508.1,481.5 512.8,478.0 517.5,485.1 518.7,492.1 514.0,494.4 509.3,489.7Z" fill="#adc94f"/>
<path d="M292.8,375.1 296.8,375.1 296.8,379.7 292.8,379.7Z" fill="#adc94f"/>
<path d="M304.5,363.4 309.2,363.4 309.2,366.9 304.5,366.9Z" fill="#adc94f"/>
<path d="M352.5,385.6 358.4,383.3 363.7,384.4 358.4,387.9 353.7,388.6Z" fill="#adc94f"/>
<path d="M390.0,382.1 392.8,380.9 393.5,389.1 390.4,391.4Z" fill="#adc94f"/>
<path d="M298.7,496.8 315.1,496.1 315.1,497.9 298.7,498.6Z" fill="#adc94f"/>
<path d="M361.9,500.3 387.6,500.3 387.6,503.8 361.9,503.8Z" fill="#adc94f"/>
<path d="M368.9,416.0 374.7,412.5 382.9,409.7 391.1,409.7 391.8,413.7 382.9,415.3 373.6,416.7Z" fill="#0000ff"/>
<path d="M396.5,409.0 401.7,405.0 405.9,405.5 402.1,410.2 397.0,411.3Z" fill="#0000ff"/>
<path d="M400.5,413.7 406.3,410.2 412.2,409.7 411.0,412.5 404.0,414.8 401.2,416.7Z" fill="#0000ff"/>
<path d="M415.7,404.3 422.7,401.5 429.7,402.7 428.6,405.0 421.5,406.7 420.4,411.3 416.2,411.3Z" fill="#0000ff"/>
<path d="M429.0,355.9 431.4,355.9 431.4,358.7 429.0,358.7Z" fill="#0000ff"/>
</g>
<clipPath id="tc10"><rect x="527" y="354" width="233" height="149"/></clipPath>
<g clip-path="url(#tc10)">
<rect x="527" y="354" width="233" height="149" fill="#008000"/>
<path d="M525.8,361.0 536.4,359.9 543.4,352.8 573.8,352.8 571.5,361.0 564.4,365.7 568.0,371.6 559.8,376.2 552.7,379.7 553.9,386.8 548.1,391.4 541.0,389.1 538.7,396.1 537.5,404.3 541.0,412.5 536.4,421.9 531.7,428.9 525.8,431.2Z" fill="#adc94f"/>
<path d="M525.8,368.0 534.0,366.9 541.0,372.7 536.4,379.7 525.8,380.9Z" fill="#008000"/>
<path d="M543.4,368.0 552.7,365.7 555.1,371.6 548.1,376.2Z" fill="#008000"/>
<path d="M559.8,409.0 569.1,407.4 575.0,414.8 570.3,423.0 562.1,421.9 558.6,416.0Z" fill="#adc94f"/>
<path d="M541.0,424.2 550.4,421.9 557.4,424.2 552.7,428.9 543.4,431.2 536.4,435.9 525.8,439.4 525.8,433.6 534.0,430.1Z" fill="#adc94f"/>
<path d="M525.8,471.0 536.4,468.7 543.4,475.7 545.7,487.4 552.7,494.4 553.9,503.8 525.8,503.8Z" fill="#adc94f"/>
<path d="M573.8,352.8 583.2,352.8 580.8,361.0 573.8,363.4Z" fill="#adc94f"/>
<path d="M592.5,352.8 620.6,352.8 615.9,358.7 606.6,361.0 597.2,359.9Z" fill="#adc94f"/>
<path d="M633.5,372.7 641.7,370.8 646.4,379.7 654.5,385.6 661.6,391.4 667.4,397.3 672.1,404.3 679.1,411.3 686.1,417.2 690.8,421.9 688.5,426.5 681.5,424.2 674.4,421.9 667.4,417.2 660.4,412.5 654.5,409.0 648.7,406.7 644.0,399.6 642.8,392.6 638.9,385.6 635.1,378.6Z" fill="#adc94f"/>
<path d="M690.8,421.9 697.8,417.2 704.9,411.3 714.2,406.7 723.6,403.1 730.6,398.5 737.6,391.4 735.3,383.3 737.6,376.2 734.1,368.0 738.8,361.0 744.6,352.8 761.0,352.8 761.0,503.8 665.1,503.8 667.4,492.1 672.1,485.1 676.8,478.0 683.8,471.0 687.3,464.0 689.6,454.6 687.3,447.6 685.0,440.6 681.5,433.6 682.6,427.7 688.5,426.5Z" fill="#adc94f"/>
<path d="M645.2,396.1 653.4,395.0 658.1,400.8 653.4,406.7 647.5,404.3Z" fill="#adc94f"/>
<path d="M589.0,417.2 594.9,417.2 594.9,421.9 589.0,421.9Z" fill="#adc94f"/>
<path d="M742.3,363.4 751.7,361.0 761.0,363.4 761.0,379.7 754.0,377.4 749.3,372.7 744.6,370.4Z" fill="#ffff00"/>
<path d="M756.3,403.1 761.0,400.8 761.0,412.5 757.5,410.2Z" fill="#ffff00"/>
<path d="M745.8,427.7 750.5,424.2 761.0,421.9 761.0,503.8 738.8,503.8 744.6,494.4 749.3,487.4 747.0,480.4 750.5,473.4 747.0,468.7 751.7,461.7 755.2,452.3 754.0,442.9 750.5,434.7Z" fill="#ffff00"/>
<path d="M700.2,447.6 708.4,440.6 714.2,444.1 716.6,450.0 711.9,454.6 707.2,461.7 711.9,460.5 721.2,458.1 730.6,459.3 737.6,464.0 732.9,468.7 725.9,466.3 718.9,468.7 711.9,473.4 707.2,480.4 700.2,485.1 704.9,489.7 711.9,494.4 714.2,503.8 682.6,503.8 683.8,494.4 688.5,485.1 686.1,478.0 690.8,471.0 695.5,466.3 699.0,459.3 702.5,452.3Z" fill="#ffff00"/>
<path d="M525.8,352.8 543.4,352.8 538.7,358.7 531.7,361.0 525.8,359.9Z" fill="#ffff00"/>
<path d="M601.9,433.6 615.9,431.2 630.0,432.4 644.0,433.6 653.4,438.2 658.1,447.6 662.7,457.0 660.4,466.3 653.4,473.4 644.0,478.0 634.7,481.5 625.3,485.1 613.6,487.4 601.9,485.1 594.9,478.0 587.8,471.0 580.8,464.0 576.1,454.6 578.5,445.3 587.8,438.2Z" fill="#006400"/>
<path d="M543.4,431.2 555.1,428.9 569.1,427.7 580.8,426.5 583.2,433.6 578.5,442.9 573.8,452.3 571.5,464.0 566.8,475.7 559.8,482.7 552.7,478.0 548.1,468.7 545.7,457.0 543.4,445.3Z" fill="#006400"/>
<path d="M569.1,372.7 580.8,369.2 590.2,370.4 594.9,375.1 587.8,379.7 578.5,384.4 571.5,386.8 564.4,391.4 559.8,389.1 562.1,379.7Z" fill="#006400"/>
<path d="M688.5,368.0 700.2,365.7 711.9,370.4 718.9,379.7 723.6,389.1 721.2,398.5 714.2,400.8 707.2,398.5 700.2,391.4 693.2,384.4 689.6,376.2Z" fill="#006400"/>
<path d="M623.0,414.8 634.7,412.5 644.0,414.8 639.3,420.7 627.6,421.9Z" fill="#006400"/>
<path d="M722.4,479.2 728.3,478.0 729.4,482.7 723.6,483.2Z" fill="#008000"/>
<path d="M732.9,475.7 737.6,474.5 738.8,479.2 734.1,479.2Z" fill="#008000"/>
<path d="M571.0,382.1 576.1,381.6 576.6,384.9 571.5,385.4Z" fill="#0000ff"/>
<path d="M582.0,377.4 589.7,378.6 589.7,381.6 582.7,380.2Z" fill="#0000ff"/>
<path d="M628.8,451.8 631.1,451.8 631.1,454.2 628.8,454.2Z" fill="#0000ff"/>
<path d="M591.4,470.5 594.9,470.5 594.9,472.2 591.4,472.2Z" fill="#0000ff"/>
<path d="M562.8,478.0 564.9,478.0 564.9,480.4 562.8,480.4Z" fill="#0000ff"/>
</g>
<clipPath id="tc11"><rect x="760" y="354" width="233" height="149"/></clipPath>
<g clip-path="url(#tc11)">
<rect x="760" y="354" width="233" height="149" fill="#006400"/>
<path d="M758.8,352.8 928.5,352.8 925.0,363.4 921.5,372.7 915.6,384.4 909.8,396.1 902.8,407.8 895.7,417.2 888.7,426.5 879.4,435.9 870.0,444.1 860.6,452.3 851.3,461.7 841.9,471.0 832.5,481.5 824.4,489.7 816.2,496.8 811.5,503.8 758.8,503.8Z" fill="#adc94f"/>
<path d="M758.8,352.8 928.5,352.8 925.0,363.4 919.1,366.9 912.1,371.6 905.1,373.9 895.7,375.1 886.4,375.1 879.4,379.7 872.3,386.8 865.3,391.4 858.3,393.8 851.3,398.5 844.2,404.3 837.2,410.2 830.2,414.8 823.2,419.5 816.2,424.2 806.8,426.5 797.4,425.4 788.1,424.2 781.1,421.9 774.0,419.5 767.0,414.8 758.8,412.5Z" fill="#ffff00"/>
<path d="M758.8,442.9 767.0,447.6 774.0,454.6 778.7,464.0 783.4,473.4 781.1,485.1 782.2,494.4 783.4,503.8 758.8,503.8Z" fill="#ffff00"/>
<path d="M795.1,358.7 806.8,356.3 810.3,365.7 804.5,372.7 797.4,368.0Z" fill="#ffd700"/>
<path d="M795.1,391.4 806.8,386.8 811.5,392.6 804.5,399.6 796.3,397.3Z" fill="#ffd700"/>
<path d="M762.3,471.0 769.4,468.7 771.7,475.7 765.9,480.4Z" fill="#ffd700"/>
<path d="M823.2,376.2 837.2,374.6 841.9,379.7 832.5,383.3 824.4,380.9Z" fill="#adc94f"/>
<path d="M769.4,375.1 781.1,372.7 783.4,379.7 776.4,384.4 770.5,382.1Z" fill="#adc94f"/>
<path d="M758.8,368.0 767.0,370.4 764.7,377.4 758.8,377.4Z" fill="#adc94f"/>
<path d="M841.9,393.8 851.3,391.4 852.4,397.3 844.2,399.6Z" fill="#adc94f"/>
<path d="M811.5,400.8 820.8,398.5 822.0,404.3 815.0,406.7Z" fill="#adc94f"/>
<path d="M764.7,426.5 768.2,425.4 769.4,431.2 765.9,433.6Z" fill="#008000"/>
<path d="M769.4,437.1 772.9,435.9 775.2,442.9 771.7,444.1Z" fill="#008000"/>
<path d="M923.8,365.7 919.1,375.1 913.3,385.6 906.3,396.1 898.1,406.7 889.9,412.5 881.7,419.5 872.3,424.2 870.0,421.9 865.3,423.0 863.0,428.9 853.6,434.7 844.2,438.2 834.9,440.6 827.9,444.1 822.0,447.6 816.2,454.6 810.3,459.3 808.0,466.3 803.3,471.0 805.6,480.4 803.3,492.1 802.1,503.8 810.3,503.8 815.0,495.6 819.7,489.7 823.2,481.5 830.2,473.4 839.6,464.0 846.6,454.6 851.3,447.6 858.3,444.1 867.7,439.4 877.0,432.4 885.2,424.2 893.4,416.0 900.4,406.7 909.8,396.1 915.6,384.4 921.5,372.7 925.0,363.4 927.3,356.3Z" fill="#008000"/>
<path d="M838.4,352.8 845.4,359.9 856.0,362.2 866.5,359.9 881.7,352.8Z" fill="#008000"/>
<path d="M844.2,352.8 850.1,357.5 858.3,358.7 864.1,356.8 866.5,352.8Z" fill="#0000ff"/>
<path d="M851.3,352.8 856.0,356.8 861.8,356.3 864.1,352.8Z" fill="#4169e1"/>
<path d="M837.2,480.4 840.7,473.4 846.6,466.3 853.6,462.8 860.6,457.0 863.0,452.3 870.0,450.0 874.7,442.9 881.7,439.4 888.7,433.6 892.2,428.9 894.6,434.7 900.4,434.7 898.1,442.9 905.1,441.8 912.1,438.2 921.5,437.1 928.5,438.2 933.2,434.7 935.5,440.6 940.2,445.3 947.2,438.2 953.1,434.7 958.9,439.4 963.6,447.6 968.3,457.0 973.0,461.7 980.0,460.5 985.8,457.0 987.0,466.3 985.8,480.4 984.7,490.9 980.0,488.6 975.3,482.7 969.5,475.7 963.6,468.7 958.9,464.0 954.2,459.3 949.6,464.0 944.9,468.7 937.9,466.3 933.2,471.0 935.5,475.7 928.5,476.9 923.8,473.4 919.1,475.7 912.1,479.2 905.1,481.5 898.1,485.1 893.4,490.9 887.5,489.7 881.7,487.4 879.4,481.5 884.0,476.9 877.0,473.4 870.0,475.7 863.0,478.0 856.0,480.4 853.6,487.4 848.9,492.1 843.1,488.6 838.4,485.1Z" fill="#0000ff"/>
<path d="M891.1,452.3 895.7,442.9 900.4,440.6 902.8,447.6 898.1,457.0 893.4,464.0 889.9,459.3Z" fill="#006400"/>
<path d="M909.8,457.0 916.8,452.3 921.5,457.0 919.1,466.3 912.1,468.7 908.6,464.0Z" fill="#006400"/>
<path d="M865.3,459.3 874.7,454.6 881.7,457.0 877.0,464.0 867.7,466.3Z" fill="#006400"/>
<path d="M923.8,445.3 930.8,442.9 934.4,450.0 928.5,454.6 923.8,452.3Z" fill="#006400"/>
<path d="M942.5,454.6 948.4,452.3 949.6,459.3 944.9,462.8Z" fill="#006400"/>
<path d="M971.8,471.0 977.6,468.7 981.2,475.7 976.5,480.4 971.8,476.9Z" fill="#006400"/>
<path d="M949.6,413.7 954.2,412.0 957.8,418.4 960.1,428.9 957.8,430.1 954.2,421.9 950.0,418.4Z" fill="#0000ff"/>
<path d="M965.9,383.3 975.3,380.9 976.5,384.0 968.3,385.6Z" fill="#0000ff"/>
<path d="M965.5,392.6 973.0,390.3 980.0,395.0 978.8,397.3 971.8,393.8 965.9,395.7Z" fill="#0000ff"/>
<path d="M967.1,405.5 973.0,404.3 973.0,406.7 967.8,408.3Z" fill="#0000ff"/>
<path d="M975.3,405.0 982.3,404.3 982.3,407.8 976.5,407.8Z" fill="#0000ff"/>
<path d="M944.4,387.2 947.7,387.2 947.7,391.4 944.4,391.4Z" fill="#0000ff"/>
<path d="M983.5,362.2 985.8,362.2 985.8,364.5 983.5,364.5Z" fill="#0000ff"/>
<path d="M974.8,376.9 977.6,376.9 977.6,379.7 974.8,379.7Z" fill="#0000ff"/>
<path d="M914.5,430.1 916.8,430.1 916.8,432.9 914.5,432.9Z" fill="#0000ff"/>
<path d="M973.0,434.7 974.8,434.7 974.8,438.2 973.0,438.2Z" fill="#0000ff"/>
<path d="M930.8,475.2 935.5,475.2 935.5,477.6 930.8,477.6Z" fill="#0000ff"/>
<path d="M967.8,496.8 971.8,496.8 971.8,499.1 967.8,499.1Z" fill="#0000ff"/>
</g>
<clipPath id="tc12"><rect x="880" y="150" width="113" height="100"/></clipPath>
<g clip-path="url(#tc12)">
<rect x="880" y="150" width="113" height="100" fill="#ffa500"/>
<path d="M931.5,149.2 933.1,154.7 937.0,158.6 942.4,162.5 947.1,165.6 951.8,164.8 956.5,166.4 961.1,163.3 965.0,160.9 970.5,159.4 975.2,156.2 979.9,154.7 986.1,153.1 991.6,152.3 991.6,149.2Z" fill="#ff0000"/>
<path d="M935.4,149.2 938.5,153.1 942.4,158.6 947.1,163.3 950.2,161.7 948.7,157.8 944.0,154.7 941.6,149.2Z" fill="#8b0000"/>
<path d="M967.4,149.2 973.6,149.2 972.1,153.9 968.2,153.1Z" fill="#8b0000"/>
<path d="M879.2,164.8 883.9,165.6 885.5,169.5 881.6,171.1 879.2,170.3Z" fill="#ff0000"/>
<path d="M887.8,150.0 890.9,165.6 894.0,178.1 897.9,187.5 901.1,196.8 901.8,204.6 903.4,212.4 908.1,220.2 912.8,228.0 919.0,234.3 928.4,239.7 937.7,243.6 945.5,250.7 945.5,250.7 991.6,250.7 991.6,162.8 991.6,162.8 984.6,164.4 976.8,166.9 969.0,170.0 961.1,173.1 954.9,174.7 947.1,173.1 940.1,170.3 932.3,163.3 926.8,156.2 917.5,149.2Z" fill="#ffd700"/>
<path d="M890.1,150.0 893.3,165.6 896.4,176.5 901.1,185.9 905.0,195.3 905.7,203.1 908.1,210.9 913.6,218.7 919.0,226.5 926.8,231.1 936.2,234.3 945.5,235.0 954.9,237.4 964.3,242.1 970.5,250.7 970.5,250.7 991.6,250.7 991.6,165.1 991.6,165.1 984.6,166.4 976.8,169.0 969.0,172.2 961.1,175.7 954.6,176.8 946.3,175.0 939.0,171.8 931.2,164.4 925.6,157.0 916.7,149.2Z" fill="#ffff00"/>
<path d="M987.7,220.2 991.6,218.7 991.6,250.7 986.1,250.7Z" fill="#adc94f"/>
<path d="M892.5,150.0 895.6,164.8 899.5,175.0 905.0,183.6 909.7,192.1 911.2,199.9 913.6,207.7 919.0,215.5 925.3,221.8 933.1,226.5 942.4,228.0 951.8,228.8 961.1,228.8 969.0,227.2 974.4,223.3 976.8,217.1 979.1,209.3 981.4,201.5 985.3,190.9 991.6,190.9 991.6,169.5 991.6,169.5 983.8,170.0 976.0,171.8 968.2,175.7 960.8,179.7 954.0,179.3 945.5,176.8 938.1,173.1 930.6,165.3 924.9,157.8 916.2,149.2Z" fill="#adc94f"/>
<path d="M894.4,150.8 897.5,164.0 901.8,173.4 908.1,182.0 913.1,190.6 914.6,198.4 918.2,206.2 922.9,213.2 929.9,217.9 939.3,219.9 947.9,221.5 956.5,222.1 965.0,220.2 972.9,216.3 977.5,210.1 979.9,203.1 982.2,196.8 984.9,190.9 991.6,189.0 991.6,175.0 991.6,175.0 983.3,174.7 975.5,176.2 967.7,179.7 960.4,182.5 953.3,181.2 945.2,178.1 937.4,173.7 929.9,165.9 924.5,158.1 915.9,149.2Z" fill="#008000"/>
<path d="M895.6,151.6 899.0,163.3 903.4,171.8 909.7,180.4 915.1,189.0 917.5,196.8 920.9,203.8 925.3,210.9 931.5,214.8 939.3,216.3 947.1,217.1 955.7,217.1 963.5,214.8 970.5,210.9 976.8,205.4 980.7,199.9 983.0,194.5 984.6,191.4 991.6,187.5 991.6,176.5 991.6,177.3 987.7,180.4 983.0,178.4 975.2,180.0 967.4,182.5 959.9,184.3 953.0,183.1 944.8,179.7 936.5,174.7 929.2,166.4 923.7,158.6 915.1,149.2Z" fill="#006400"/>
<path d="M984.2,191.8 986.4,197.6 987.4,204.6 990.8,212.4 991.6,213.2 991.6,176.5Z" fill="#008000"/>
<path d="M985.3,190.9 987.7,196.8 988.5,203.8 991.6,211.6 991.6,177.3 987.7,181.2Z" fill="#006400"/>
<path d="M897.5,152.3 901.1,162.5 905.7,170.3 912.0,178.1 918.2,187.5 921.4,193.7 925.3,199.9 929.2,207.0 933.1,210.9 939.3,212.4 947.1,212.4 954.9,212.4 961.9,210.9 968.2,207.0 974.4,202.3 979.9,197.6 984.2,192.1 987.7,187.5 989.2,181.2 991.6,177.3 991.6,177.3 987.7,180.4 983.0,178.4 975.2,180.0 967.4,182.5 959.9,184.3 953.0,183.1 944.8,179.7 936.5,174.7 929.2,166.4 923.7,158.6 915.1,149.2Z" fill="#0000ff"/>
<path d="M987.7,183.6 989.2,196.8 991.6,209.3 991.6,178.9Z" fill="#0000ff"/>
<path d="M900.3,154.7 905.0,152.3 911.2,153.1 916.7,159.4 919.8,165.6 922.1,171.8 924.5,178.1 926.8,183.6 923.7,189.0 920.6,185.9 917.5,181.2 913.6,175.0 908.9,170.3 905.0,164.8 901.8,159.4Z" fill="#4169e1"/>
<path d="M933.1,195.3 939.3,192.1 942.4,185.9 940.9,181.2 944.0,178.9 948.7,183.6 953.3,186.7 959.6,188.2 965.8,187.5 972.1,185.1 978.3,182.8 984.6,180.4 988.5,181.2 986.1,186.7 981.4,192.1 976.8,197.6 970.5,202.3 964.3,206.2 958.0,208.5 950.2,209.3 942.4,209.3 936.2,208.5 932.3,204.6 931.5,199.9Z" fill="#4169e1"/>
<path d="M958.0,195.3 964.3,190.6 969.0,192.1 965.0,196.8 960.4,198.4Z" fill="#0000ff"/>
<path d="M948.7,201.5 952.6,203.1 953.3,207.0 949.4,205.4Z" fill="#0000ff"/>
<path d="M972.1,192.9 974.4,194.5 972.9,196.8 971.3,195.3Z" fill="#0000ff"/>
<path d="M910.4,154.7 913.6,153.9 915.1,160.9 913.6,165.6 910.9,164.0Z" fill="#006400"/>
<path d="M926.8,195.3 929.9,191.4 933.1,192.9 933.8,199.9 931.5,205.4 927.6,204.6 926.0,199.9Z" fill="#008000"/>
<path d="M944.0,182.0 946.3,180.4 947.9,185.1 945.5,187.5Z" fill="#006400"/>
<path d="M929.9,175.0 937.7,176.5 942.4,178.9 939.3,179.7 933.1,178.1 926.8,175.7Z" fill="#008000"/>
<path d="M958.8,198.4 964.3,197.6 962.7,202.3 959.9,202.3Z" fill="#800080"/>
<path d="M893.3,150.8 898.7,150.8 898.4,154.7 894.8,154.4Z" fill="#008000"/>
<path d="M886.2,207.7 891.7,206.2 892.5,210.9 887.8,212.4Z" fill="#ffd700"/>
</g>
<clipPath id="tc13"><rect x="700" y="130" width="300" height="102"/></clipPath>
<g clip-path="url(#tc13)">
<path d="M729.0,150.3 736.8,162.7 746.1,173.7 750.8,186.1 757.1,198.6 763.3,209.5 769.5,220.4 774.2,229.8 778.9,242.3 781.1,254.7 808.2,246.9 803.5,236.0 800.4,226.7 794.2,217.3 786.4,208.0 778.6,198.6 770.8,187.7 761.4,176.8 750.5,170.5 741.2,161.2 731.8,150.3Z" fill="#008000"/>
<path d="M730.1,150.3 737.9,162.7 747.2,173.7 751.9,186.1 758.2,198.6 764.4,209.5 770.6,220.4 775.3,229.8 780.0,242.3 782.2,254.7 807.1,246.9 802.4,236.0 799.3,226.7 793.1,217.3 785.3,208.0 777.5,198.6 769.7,187.7 760.3,176.8 749.4,170.5 740.1,161.2 730.7,150.3Z" fill="#006400"/>
<path d="M731.0,150.3 738.8,162.7 748.2,173.7 752.9,186.1 759.1,198.6 765.3,209.5 771.6,220.4 776.2,229.8 780.9,242.3 783.1,254.7 806.2,246.9 801.5,236.0 798.4,226.7 792.1,217.3 784.3,208.0 776.6,198.6 768.8,187.7 759.4,176.8 748.5,170.5 739.1,161.2 729.8,150.3Z" fill="#0000ff"/>
<path d="M753.0,176.8 760.8,181.4 768.6,190.8 776.4,201.7 784.2,211.1 792.0,220.4 798.2,229.8 801.3,239.1 806.0,250.0 784.8,253.2 782.6,240.7 778.0,229.8 773.3,220.4 767.0,209.5 760.8,198.6 755.5,187.7Z" fill="#4169e1"/>
<path d="M751.4,176.8 757.7,181.4 762.4,192.4 757.7,195.5 753.0,187.7Z" fill="#008000"/>
<path d="M767.0,192.4 773.3,197.0 776.4,204.8 771.1,204.8Z" fill="#006400"/>
<path d="M790.4,220.4 796.7,226.7 799.8,237.6 804.5,248.5 800.4,248.5 796.0,237.6 791.1,228.2Z" fill="#0000ff"/>
</g>
<clipPath id="tc14"><rect x="180" y="54" width="240" height="156"/></clipPath>
<g clip-path="url(#tc14)">
<path d="M276.2,136.8 284.7,122.2 296.8,114.9 311.5,107.6 326.1,101.5 332.1,95.4 335.8,90.5 350.4,94.2 361.4,95.9 365.0,102.7 367.4,114.9 368.7,124.6 355.3,126.3 348.0,128.2 340.7,131.9 338.2,138.0 330.9,134.3 328.5,127.0 322.4,124.6 316.3,127.0 312.7,134.3 301.7,138.0 296.8,144.1 289.5,144.1 284.7,147.7 282.2,153.8 277.4,161.1 272.5,168.4 265.2,175.7 264.0,168.4 270.1,158.7 276.2,148.9Z" fill="#ffff00"/>
<path d="M312.7,131.9 318.8,127.0 326.1,125.8 323.6,130.7 316.3,134.3Z" fill="#ffd700"/>
<path d="M301.7,117.3 316.3,111.2 328.5,106.3 335.8,107.6 326.1,113.6 313.9,118.5 304.1,122.2Z" fill="#ffd700"/>
<path d="M284.7,147.7 290.8,144.1 296.8,145.3 293.2,151.4 287.1,153.8Z" fill="#ffa500"/>
<path d="M339.4,133.1 345.5,129.9 349.2,131.9 343.1,138.0 339.4,139.2Z" fill="#ffa500"/>
</g>
<clipPath id="tc15"><rect x="200" y="250" width="300" height="196"/></clipPath>
<g clip-path="url(#tc15)">
<path d="M424.8,332.6 438.5,328.0 456.9,330.1 475.2,334.1 484.4,338.7 469.1,341.7 459.9,347.9 458.4,360.1 466.1,369.3 478.3,372.3 493.6,369.3 501.2,366.2 501.2,393.7 487.5,396.8 478.3,406.0 476.8,418.2 463.0,422.8 447.7,423.7 438.5,412.1 427.8,402.9 421.7,396.8 423.2,372.3 424.8,350.9Z" fill="#006400"/>
<path d="M428.7,355.5 431.2,355.5 431.2,359.2 428.7,359.2Z" fill="#0000ff"/>
</g>
<clipPath id="tc16"><rect x="700" y="230" width="300" height="200"/></clipPath>
<g clip-path="url(#tc16)">
<path d="M768.6,228.6 771.7,242.7 776.4,258.3 779.8,273.8 787.9,281.6 794.8,292.6 802.3,301.9 808.5,311.3 816.3,320.6 824.1,330.0 830.3,339.3 833.5,347.1 838.1,353.4 846.6,356.9 855.9,360.0 868.4,356.9 880.9,353.8 893.3,350.7 905.8,349.1 918.3,347.6 929.2,346.6 932.6,336.0 937.3,323.5 939.8,309.5 941.0,300.2 930.7,299.5 918.3,305.8 905.8,311.1 893.3,315.1 880.9,319.8 868.4,326.0 855.9,330.7 846.6,333.8 844.1,326.5 845.6,317.1 847.2,304.6 845.6,292.2 842.5,282.8 835.3,273.5 827.5,262.6 817.2,253.2 808.8,242.3 804.1,228.3Z" fill="#008000"/>
<path d="M769.7,228.3 772.8,242.3 777.5,257.9 780.9,273.5 789.0,281.3 795.9,292.2 803.4,301.6 809.6,310.9 817.4,320.3 825.2,329.6 831.4,339.0 834.5,346.8 839.2,353.0 846.6,355.8 855.9,358.9 868.4,355.8 880.9,352.7 893.3,349.6 905.8,348.0 918.3,346.5 929.2,345.5 932.1,336.0 936.7,323.5 939.2,309.5 940.5,300.2 930.7,300.6 918.3,306.9 905.8,312.2 893.3,316.2 880.9,320.9 868.4,327.1 855.9,331.8 846.6,334.9 843.0,326.8 844.5,317.4 846.1,305.0 844.5,292.5 841.4,283.1 834.2,273.8 826.4,262.9 816.2,253.5 807.7,242.6 803.1,228.6Z" fill="#006400"/>
<path d="M770.6,228.0 773.7,242.1 778.4,257.6 781.9,273.2 790.0,281.0 796.8,291.9 804.3,301.3 810.5,310.7 818.3,320.0 826.1,329.4 832.4,338.7 835.5,346.5 840.2,352.7 846.6,354.9 855.9,358.0 868.4,354.9 880.9,351.8 893.3,348.6 905.8,347.1 918.3,345.5 929.2,344.6 931.6,336.0 936.3,323.5 938.8,309.5 940.0,300.2 930.7,301.6 918.3,307.8 905.8,313.1 893.3,317.2 880.9,321.8 868.4,328.1 855.9,332.7 846.6,335.9 842.0,327.1 843.6,317.7 845.2,305.3 843.6,292.8 840.5,283.4 833.3,274.1 825.5,263.2 815.2,253.8 806.8,242.9 802.1,228.9Z" fill="#0000ff"/>
<path d="M780.4,236.2 799.2,234.7 806.0,245.6 813.8,256.5 823.2,265.9 831.0,276.8 836.6,286.1 839.1,295.5 838.8,306.4 837.2,317.3 838.8,326.7 845.0,336.0 855.9,337.6 868.4,332.9 880.9,326.7 893.3,322.0 905.8,317.9 918.3,313.6 929.2,308.0 933.9,312.6 932.3,323.5 929.2,332.9 918.3,329.8 905.8,332.9 899.6,339.1 890.2,337.6 880.9,343.8 868.4,348.5 855.9,353.2 846.6,350.0 840.3,343.8 834.1,334.5 827.8,325.1 820.0,315.7 812.3,306.4 806.0,297.0 799.8,287.7 792.3,278.3 785.4,270.5 782.6,258.1 780.4,245.6Z" fill="#4169e1"/>
<path d="M823.2,279.9 831.0,283.0 837.2,295.5 840.3,308.0 837.2,311.1 832.5,300.2 826.3,290.8Z" fill="#0000ff"/>
<path d="M807.6,297.0 816.9,300.2 823.2,311.1 815.4,312.6 809.1,306.4Z" fill="#0000ff"/>
<path d="M890.2,339.1 899.6,337.6 908.9,331.3 921.4,329.8 930.7,332.9 929.2,343.8 918.3,345.4 905.8,346.9 893.3,348.5 884.0,350.0 882.4,345.4Z" fill="#0000ff"/>
<path d="M902.7,334.5 915.2,332.3 919.8,337.6 912.0,342.3 904.2,340.7Z" fill="#006400"/>
<path d="M791.1,261.2 794.2,261.2 794.2,264.9 791.1,264.9Z" fill="#800080"/>
<path d="M795.7,274.3 799.8,274.3 799.8,278.3 795.7,278.3Z" fill="#800080"/>
<path d="M832.5,318.9 838.8,318.2 839.7,323.5 834.1,324.2Z" fill="#800080"/>
<path d="M830.3,310.4 834.1,310.4 834.1,313.6 830.3,313.6Z" fill="#800080"/>
<path d="M874.6,337.6 878.4,337.6 878.4,340.1 874.6,340.1Z" fill="#800080"/>
<path d="M845.0,343.8 849.7,346.0 852.8,353.2 848.1,352.2Z" fill="#800080"/>
<path d="M824.7,343.8 835.6,342.3 840.3,350.0 838.8,354.7 829.4,353.2 825.4,350.0Z" fill="#008000"/>
<path d="M940.1,300.2 949.5,293.9 965.0,287.7 977.5,281.4 991.5,273.7 991.5,289.2 980.6,292.4 974.4,301.7 968.2,311.1 961.9,314.2 958.8,308.0 965.0,300.2 955.7,301.7 946.3,308.0 940.7,311.1Z" fill="#0000ff"/>
</g>
<clipPath id="tc17"><rect x="60" y="250" width="300" height="200"/></clipPath>
<g clip-path="url(#tc17)">
<path d="M206.6,293.7 222.1,290.5 234.6,296.8 247.1,306.1 253.3,318.6 259.6,331.1 253.3,340.4 247.1,349.8 259.6,359.1 272.0,368.5 284.5,381.0 297.0,396.6 303.2,412.1 300.1,421.5 290.7,418.4 278.3,409.0 265.8,399.7 253.3,390.3 240.9,377.8 228.4,365.4 215.9,352.9 209.7,340.4 201.9,331.1 197.2,312.4 201.9,301.4Z" fill="#006400"/>
<path d="M248.6,349.8 259.6,347.3 265.8,352.9 259.6,357.6 250.8,355.4Z" fill="#adc94f"/>
<path d="M278.3,343.5 284.5,340.4 289.2,349.8 282.9,352.9Z" fill="#adc94f"/>
</g>
<clipPath id="tc18"><rect x="840" y="54" width="153" height="106"/></clipPath>
<g clip-path="url(#tc18)">
<path d="M980.5,96.1 991.2,93.7 991.2,153.2 985.5,151.5 980.5,153.2 975.5,150.7 972.2,154.8 965.6,151.5 959.0,148.2 955.7,143.3 959.0,140.0 954.0,136.6 952.4,130.0 957.4,126.7 954.0,123.4 959.0,121.8 965.6,119.3 970.6,121.8 972.2,126.7 977.2,123.4 980.5,116.8 978.8,108.5 981.3,101.9Z" fill="#8b0000"/>
<path d="M972.2,131.7 977.2,130.0 979.7,136.6 976.4,140.0 972.2,137.5Z" fill="#ff0000"/>
<path d="M940.8,116.8 945.8,111.9 952.4,113.5 951.6,119.3 945.8,121.8 941.7,120.1Z" fill="#8b0000"/>
<path d="M897.0,74.7 902.0,73.0 903.6,78.8 900.3,82.1 897.9,79.6Z" fill="#8b0000"/>
<path d="M899.5,85.4 906.1,84.6 907.8,89.5 902.8,93.7 899.5,91.2Z" fill="#8b0000"/>
<path d="M897.9,95.3 906.1,94.5 906.1,99.5 899.5,100.3Z" fill="#8b0000"/>
<path d="M921.0,77.1 929.3,78.0 935.9,81.3 940.8,82.1 939.2,85.4 932.6,84.6 926.0,82.1 921.8,80.4Z" fill="#8b0000"/>
<path d="M923.5,135.0 929.3,133.3 932.6,140.0 939.2,143.3 937.5,153.2 940.8,160.6 934.2,160.6 932.6,153.2 928.4,146.6 924.3,141.6Z" fill="#8b0000"/>
<path d="M926.0,87.1 932.6,85.4 937.5,92.0 942.5,95.3 949.1,92.0 955.7,89.5 954.0,94.5 947.4,98.6 955.7,99.5 956.5,105.2 949.1,106.1 942.5,101.9 935.9,100.3 929.3,95.3 922.6,93.7Z" fill="#ffa500"/>
<path d="M911.1,80.4 919.3,78.8 922.6,83.8 917.7,87.1 912.7,85.4Z" fill="#ffa500"/>
<path d="M843.3,55.7 856.5,55.7 861.5,63.9 859.8,70.5 853.2,67.2 846.6,65.6 844.1,60.6Z" fill="#ff0000"/>
<path d="M866.4,63.9 873.1,62.3 875.5,68.9 869.8,71.4Z" fill="#ffff00"/>
<path d="M932.6,82.4 939.2,82.1 939.2,84.6 932.9,84.9Z" fill="#ffffff"/>
<path d="M962.3,129.2 964.8,128.4 965.3,135.0 962.6,135.3Z" fill="#ffffff"/>
<path d="M926.0,139.6 929.3,139.6 929.3,142.9 926.0,142.9Z" fill="#ffffff"/>
<path d="M972.2,143.3 977.2,143.3 977.2,145.7 972.2,145.7Z" fill="#ffffff"/>
<path d="M986.3,147.4 991.2,147.4 991.2,149.0 986.3,149.0Z" fill="#ffffff"/>
</g>
<clipPath id="tc19"><rect x="880" y="50" width="113" height="60"/></clipPath>
<g clip-path="url(#tc19)">
<path d="M959.3,53.6 975.0,53.6 973.8,58.3 970.2,61.9 965.5,65.4 961.9,67.8 959.3,67.8Z" fill="#ff0000"/>
<path d="M983.3,53.6 992.2,53.6 992.2,59.5 984.5,58.9Z" fill="#ff0000"/>
<path d="M942.9,57.1 947.7,55.3 956.0,55.9 957.7,61.9 953.6,66.6 948.8,64.2 944.1,61.3Z" fill="#ffff00"/>
</g>
<clipPath id="tc20"><rect x="640" y="330" width="260" height="174"/></clipPath>
<g clip-path="url(#tc20)">
<path d="M759.4,340.9 773.0,338.1 775.7,351.7 770.3,365.3 767.5,384.3 770.3,400.6 767.5,416.8 760.8,416.8 759.4,397.8 758.0,378.8 754.0,365.3 748.5,357.1Z" fill="#adc94f"/>
<path d="M781.1,338.1 787.9,339.5 786.5,346.3 779.8,344.9Z" fill="#adc94f"/>
<path d="M813.7,359.9 821.8,357.1 827.2,365.3 819.1,368.0Z" fill="#adc94f"/>
</g>
</g>
<g clip-path="url(#mapclip)" fill="none" stroke="#000" stroke-width="1" stroke-linejoin="round">
<polyline stroke-width="0.9" points="324.5,85.9 319.2,86.9 314.9,96.6 309.5,106.2 301.0,110.5 291.3,114.3 283.3,124.4 277.4,133.0 276.9,142.7 279.5,144.8 273.1,156.6 263.5,163.0 244.2,171.1 241.0,180.2 227.0,190.9 222.8,205.9 212.0,216.6 201.3,232.7 199.7,246.7 205.6,249.9 208.8,262.7 211.0,276.7 205.6,299.2 194.9,313.1 202.4,326.0 202.4,337.8 211.0,344.2 221.7,353.9 235.6,368.9 241.0,379.6 248.5,391.4 260.3,397.8 266.7,403.2 286.0,417.1 302.0,423.5 318.1,418.2 339.5,415.0 350.3,416.0 361.0,419.8 371.7,415.0 382.4,410.7 395.3,405.3 408.1,402.6 418.8,402.1 430.6,403.2 436.0,408.5 440.3,415.0 446.7,424.6 457.4,423.5 471.3,421.4 477.8,421.4 484.2,427.8 487.4,436.4 487.4,446.0 485.3,460.0 482.0,465.3 478.8,478.2 482.0,486.8 485.3,496.4 489.5,502.9 494.9,508.2"/>
<polyline stroke-width="0.9" points="811.5,505.0 812.0,501.8 820.6,495.4 828.1,488.9 837.7,475.0 853.8,458.9 867.7,449.3 880.6,439.6 894.5,425.7 905.2,410.7 912.7,395.7 919.2,381.7 926.7,369.9 929.9,359.2 932.0,344.2 926.7,342.6 918.1,347.4 907.4,349.6 896.7,351.2 886.0,351.7 875.2,354.9 864.5,358.7 853.8,358.7 848.5,352.8 844.7,346.3 839.9,346.3 846.3,342.1 844.2,334.6 837.7,329.2 829.2,321.7 819.5,313.1 811.0,306.7 805.6,303.5 802.4,293.8 796.0,277.7 785.2,269.2 781.0,260.6 781.0,245.6 777.7,234.9 764.9,214.5 762.7,208.1 755.2,195.2 749.9,186.6 745.6,179.1 742.4,171.6 731.7,149.6 732.7,154.5 738.1,164.1 742.4,168.4 749.4,173.2 751.5,167.3 754.2,159.8 756.9,153.9 755.2,160.9 759.5,170.5 773.5,192.0 781.0,203.8 790.6,213.4 800.2,229.5 802.4,240.2 811.0,253.1 821.7,261.7 832.4,283.1 839.9,293.8 841.0,307.8 845.2,322.8 848.5,334.6 853.8,335.6 864.5,333.5 880.6,327.1 896.7,320.6 907.4,315.3 923.5,307.8 941.7,303.5 941.7,297.0 951.3,292.7 961.0,288.5 974.9,283.1 985.6,278.8 995.2,268.1"/>
<polyline stroke-width="0.9" points="995.2,213.4 991.0,211.3 986.7,204.8 986.7,196.3 986.1,188.2 982.4,193.1 974.9,200.0 965.2,209.1 956.7,212.3 946.0,211.8 937.4,213.4 934.2,207.0 935.2,198.4 931.0,190.9 927.2,197.3 926.7,205.4 920.2,195.2 919.2,185.5 913.8,181.3 905.2,172.7 901.0,164.1 896.7,155.5 896.7,150.2 902.0,149.6 906.3,145.9 912.7,147.5 920.2,149.1 927.7,160.9 934.2,172.1 946.0,175.9 955.6,182.3 968.5,186.6 977.0,184.5 985.6,179.7 995.2,182.3"/>
<polyline stroke-width="0.9" points="906.3,53.7 906.3,59.1 907.4,68.7 920.2,69.8 928.8,76.2 939.5,78.3 950.2,76.2 961.0,74.6 961.0,69.8 959.9,53.7"/>
<polyline stroke-width="0.9" points="324.5,85.9 334.2,93.4 350.3,92.3 358.8,94.4 371.7,88.0 382.4,86.4 393.1,80.5 403.8,78.3 414.5,76.2 425.3,75.1 436.0,76.7 446.7,74.1 457.4,73.5 468.1,75.1 478.8,71.9 487.9,70.8 492.8,73.0 492.8,76.2 500.3,73.5 499.2,80.0 494.9,81.6 496.0,86.9 501.3,93.4 498.1,98.7 490.6,103.0 489.5,107.3 497.0,109.4 501.3,114.8 506.7,115.3 514.2,118.5 523.8,118.0 534.5,120.2 545.3,123.4 547.4,131.9 553.8,135.7 564.5,138.4 575.3,141.6 586.0,145.9 592.4,144.8 596.7,138.4 595.6,129.8 597.8,124.4 605.3,120.2 614.9,118.0 629.9,121.2 631.0,125.5 639.5,127.7 650.2,128.2 652.4,132.5 666.3,133.0 674.9,134.6 687.7,137.8 693.1,140.0 702.7,136.2 708.1,133.6 714.5,131.9 723.1,133.0 728.5,135.2 732.7,137.8 741.3,136.8 748.8,135.2 752.0,131.4 754.7,126.6 757.4,119.1 758.5,115.9 762.7,107.3 766.0,100.9 767.0,95.5 765.4,89.1 767.6,84.8 770.2,78.3 763.8,78.3 753.1,76.2 743.5,82.6 731.7,83.7 725.2,78.9 710.2,75.7 708.1,81.6 699.5,82.6 693.1,77.3 684.5,76.2 676.0,74.1 673.8,66.6 664.2,60.1 666.3,53.7"/>
<polyline stroke-width="0.9" points="728.5,95.0 736.0,99.8 745.6,95.5 753.1,88.5 743.5,91.2 734.9,91.2 728.5,95.0"/>
<polyline stroke-width="0.9" points="634.7,90.1 641.7,93.4 650.2,96.0 664.2,95.0 664.2,92.3 650.2,91.2 641.7,89.6 634.7,90.1"/>
<polyline stroke-width="0.9" points="606.3,53.7 609.5,60.1 610.6,65.5 613.8,70.8 614.9,75.7 622.4,79.4 623.5,76.2 626.7,79.4 631.0,80.0 628.8,74.1 626.7,68.7 632.0,68.7 639.5,66.6 640.6,61.2 635.3,58.0 631.0,53.7"/>
<polyline stroke-width="0.9" points="515.8,63.3 516.3,67.6 527.0,71.4 537.8,74.1 544.2,77.3 546.3,73.0 545.3,66.6 549.5,60.7 537.8,62.8 524.9,61.2 515.8,63.3"/>
<polyline stroke-width="0.9" points="551.7,53.7 550.1,63.3 554.9,63.9 559.7,59.1 560.3,53.7"/>
<polyline stroke-width="0.9" points="283.8,53.7 288.1,59.1 287.0,74.1 296.7,74.1 303.1,71.9 313.8,76.7 316.0,81.6 322.4,84.8 325.6,83.2 335.3,77.3 344.9,77.3 358.8,76.7 365.3,69.8 374.9,67.1 377.0,59.6 384.5,53.7"/>
<g stroke-dasharray="3.7,1.6">
<polyline points="241.3,174.1 289.5,174.1"/>
<polyline points="199.7,246.7 200.8,242.0 243.1,242.0 243.1,224.1 253.8,219.3 253.8,192.0 289.5,192.0 289.5,174.1 289.5,163.0 306.3,153.4 325.6,150.2 343.8,141.6 350.3,130.9 369.5,126.6 368.5,121.2 364.2,113.7 364.2,100.9 358.8,94.4"/>
<polyline points="289.5,178.0 330.7,202.7 394.6,246.1 415.6,259.0 415.6,265.9 427.9,265.4 444.5,262.2 511.0,218.8 534.5,228.4 543.1,224.1 552.8,219.3 639.5,261.7 639.5,256.3 650.2,256.3 650.2,234.9 650.2,157.7 647.0,148.0 651.9,131.4"/>
<polyline points="330.7,202.7 311.9,202.7 323.5,297.6 322.4,304.5 282.8,304.5 267.8,305.6 259.2,303.5 256.0,311.0 251.7,312.0"/>
<polyline points="427.9,265.4 427.4,289.5 419.9,305.6 396.3,306.7 384.5,311.0"/>
<polyline points="650.2,234.9 777.7,234.9"/>
<polyline points="543.1,224.1 552.8,252.0 547.9,285.8 527.0,314.2 526.5,323.8"/>
<polyline points="639.5,261.7 639.5,302.4 628.3,303.5 622.4,314.2 620.3,324.9 618.1,334.6 624.5,346.3 627.8,352.8"/>
<polyline points="474.5,75.1 471.3,84.8 471.3,93.4 462.8,105.1 462.8,114.8 471.3,122.3 479.4,126.6 484.2,145.9 492.8,139.5 492.8,130.9 505.6,123.4 506.1,115.3"/>
<polyline points="484.2,145.9 488.5,167.3 483.1,187.7 489.5,204.8 511.0,218.8"/>
<polyline points="841.0,294.9 845.2,284.2 856.0,284.2 878.5,286.3 891.3,288.5 907.4,271.3 939.5,267.0 971.7,256.3 978.8,234.9 973.8,227.4 946.0,225.2 935.2,212.3"/>
<polyline points="939.5,267.0 951.3,292.2"/>
<polyline points="756.9,156.1 768.1,157.7 784.2,149.1 789.5,143.7 778.8,133.0 802.4,126.1 815.2,128.7 832.4,137.3 861.3,157.7 879.5,158.7 881.1,158.7 890.8,159.8 893.5,164.6 901.0,164.6"/>
<polyline points="881.1,158.7 886.0,150.2 896.1,149.1"/>
<polyline points="896.7,149.1 893.5,138.4 894.5,127.7 876.3,116.9 868.8,106.2 877.4,94.4 868.8,84.8 862.4,72.5 853.8,53.7"/>
<polyline points="768.1,85.9 775.6,82.1 774.5,76.2 789.5,75.7 811.0,76.2 836.1,73.0 862.4,72.5"/>
<polyline points="836.1,73.0 823.8,80.5 821.7,101.9 798.1,112.7 776.7,124.4 766.0,119.6"/>
<polyline points="798.1,112.7 802.4,126.1"/>
<polyline points="749.4,136.2 756.3,154.5"/>
<polyline points="763.3,121.2 762.7,133.0 757.4,153.9"/>
<polyline points="982.4,193.1 980.2,203.8 982.4,212.3 973.8,227.4"/>
<polyline points="205.6,299.2 216.3,292.7 229.2,292.7 238.8,298.1 245.3,307.8 251.7,312.0 253.8,323.8 260.3,332.4 260.3,337.8"/>
<polyline points="203.5,338.3 221.7,335.1 235.6,335.1 249.5,337.8 260.3,337.8 267.8,343.1 278.5,341.0 288.1,349.6 293.5,352.8 296.7,361.4"/>
<polyline points="202.4,324.9 216.3,322.8 232.4,324.9 234.5,327.6 218.5,328.1 202.9,330.3"/>
<polyline points="235.6,335.1 235.6,345.3 224.9,347.4 221.7,353.3"/>
<polyline points="239.9,373.7 248.5,364.6 262.4,363.5 268.8,371.0 272.0,379.6 280.6,380.7 281.7,391.4 291.3,389.2"/>
<polyline points="272.0,379.6 268.8,387.1 259.2,396.2"/>
<polyline points="296.7,361.4 299.9,380.7 291.3,389.2 293.5,401.0 302.0,408.5 301.5,423.5"/>
<polyline points="296.7,361.4 316.0,357.1 323.5,359.2 333.1,366.7 352.4,366.7 352.4,384.9 348.1,397.8 352.4,416.0"/>
<polyline points="352.4,366.7 352.4,352.8 380.8,351.7 387.8,363.5 388.8,382.8 389.9,397.8 395.3,405.3"/>
<polyline points="380.8,351.7 392.0,352.8 397.4,368.9 399.5,390.3 400.1,403.7"/>
<polyline points="392.0,352.8 397.4,348.5 408.1,343.1 408.1,338.8"/>
<polyline points="411.3,402.6 411.9,387.1 415.6,373.1 421.0,361.4 421.0,345.3 408.1,338.8 404.9,334.6 393.1,331.3 386.7,320.6 384.5,311.0 371.7,309.9 361.0,318.5 350.3,323.8 339.5,329.2 335.3,338.8 326.7,345.3 323.5,359.2"/>
<polyline points="421.0,345.3 426.3,326.0 456.3,331.3 466.0,328.1 478.8,333.5 497.0,327.6 516.3,330.3 528.1,323.8"/>
<polyline points="533.5,330.3 534.5,337.8 538.8,347.4 530.3,352.8 520.6,369.9 513.1,380.7 506.7,396.7 494.9,396.7 486.3,401.0 476.7,408.5 474.5,419.2"/>
<polyline points="526.5,323.8 533.5,330.3 542.0,334.6 543.1,347.4 544.2,363.5 534.5,363.5 531.3,367.8 548.5,390.3 538.8,404.2 537.8,413.9 543.1,423.5 554.9,440.7 556.0,447.1 524.9,447.1 503.5,447.1 487.4,446.0"/>
<polyline points="503.5,447.1 503.5,460.0 485.3,460.0"/>
<polyline points="524.9,447.1 536.7,455.7 531.3,470.7 537.8,477.1 536.7,491.1 521.7,496.4 506.7,496.4 508.8,508.2"/>
<polyline points="556.0,447.1 560.3,433.2 581.7,433.2 581.7,424.6 591.3,416.0 603.1,423.5 622.4,426.7 627.8,419.2 643.8,416.0 653.5,417.1 676.0,416.0"/>
<polyline points="581.7,433.2 576.3,447.1 573.1,467.5 556.0,492.1 556.0,508.2"/>
<polyline points="548.5,390.3 560.3,388.2 575.3,384.9 586.0,374.2 601.0,373.1 614.9,357.1 627.8,352.8 636.3,364.6 634.2,376.4 641.7,381.7 652.4,389.2 665.2,399.9 676.0,416.0 686.7,424.6 698.5,421.4 712.4,433.2 724.2,431.0 741.3,430.5 746.7,425.7 767.0,421.4 767.6,412.8 760.6,412.8 754.2,398.9 743.5,380.7 747.7,378.5"/>
<polyline points="636.3,364.6 648.1,365.6 666.3,368.9 682.4,371.0 698.5,365.6 712.4,366.2 725.2,343.1 738.1,339.9 737.0,356.0 746.7,368.9 747.7,378.5 749.9,358.1 757.4,344.2 769.2,334.6 773.5,317.4 778.8,288.5 796.0,277.7"/>
<polyline points="773.5,317.4 788.5,311.0 800.2,314.2 813.1,316.3 829.2,331.3 836.7,336.7 830.2,352.8 842.0,353.3 845.8,347.7"/>
<polyline points="842.0,353.3 843.1,364.6 853.8,374.2 884.9,384.9 896.7,384.9 864.5,417.1 843.1,421.4 832.4,426.7 831.3,428.4 821.7,440.7 821.7,480.3 827.6,488.4"/>
<polyline points="831.3,428.4 819.5,425.7 805.6,434.3 790.6,432.1 777.7,423.5 767.6,421.4"/>
<polyline points="746.7,425.7 752.0,433.2 757.4,450.3 752.0,458.9 745.6,469.6 745.6,481.4 785.2,502.9 786.3,508.2"/>
<polyline points="712.4,433.2 717.7,447.1 703.8,462.1 699.5,476.1 699.5,485.7 709.2,481.4 745.6,481.4"/>
<polyline points="709.2,481.4 712.9,495.4 702.7,499.6 693.1,499.6 695.2,487.9 699.5,485.7"/>
</g>
</g>
<g clip-path="url(#mapclip)" stroke="#808080" stroke-opacity="0.5" stroke-width="1" stroke-dasharray="2.8,1.2" fill="none">
<line x1="82.5" y1="54.5" x2="82.5" y2="502.0"/>
<line x1="125.5" y1="54.5" x2="125.5" y2="502.0"/>
<line x1="168.5" y1="54.5" x2="168.5" y2="502.0"/>
<line x1="210.5" y1="54.5" x2="210.5" y2="502.0"/>
<line x1="253.5" y1="54.5" x2="253.5" y2="502.0"/>
<line x1="296.5" y1="54.5" x2="296.5" y2="502.0"/>
<line x1="339.5" y1="54.5" x2="339.5" y2="502.0"/>
<line x1="382.5" y1="54.5" x2="382.5" y2="502.0"/>
<line x1="425.5" y1="54.5" x2="425.5" y2="502.0"/>
<line x1="468.5" y1="54.5" x2="468.5" y2="502.0"/>
<line x1="510.5" y1="54.5" x2="510.5" y2="502.0"/>
<line x1="553.5" y1="54.5" x2="553.5" y2="502.0"/>
<line x1="596.5" y1="54.5" x2="596.5" y2="502.0"/>
<line x1="639.5" y1="54.5" x2="639.5" y2="502.0"/>
<line x1="682.5" y1="54.5" x2="682.5" y2="502.0"/>
<line x1="725.5" y1="54.5" x2="725.5" y2="502.0"/>
<line x1="768.5" y1="54.5" x2="768.5" y2="502.0"/>
<line x1="810.5" y1="54.5" x2="810.5" y2="502.0"/>
<line x1="853.5" y1="54.5" x2="853.5" y2="502.0"/>
<line x1="896.5" y1="54.5" x2="896.5" y2="502.0"/>
<line x1="939.5" y1="54.5" x2="939.5" y2="502.0"/>
<line x1="982.5" y1="54.5" x2="982.5" y2="502.0"/>
<line x1="60.5" y1="492.5" x2="991.5" y2="492.5"/>
<line x1="60.5" y1="470.5" x2="991.5" y2="470.5"/>
<line x1="60.5" y1="449.5" x2="991.5" y2="449.5"/>
<line x1="60.5" y1="427.5" x2="991.5" y2="427.5"/>
<line x1="60.5" y1="406.5" x2="991.5" y2="406.5"/>
<line x1="60.5" y1="384.5" x2="991.5" y2="384.5"/>
<line x1="60.5" y1="363.5" x2="991.5" y2="363.5"/>
<line x1="60.5" y1="342.5" x2="991.5" y2="342.5"/>
<line x1="60.5" y1="320.5" x2="991.5" y2="320.5"/>
<line x1="60.5" y1="299.5" x2="991.5" y2="299.5"/>
<line x1="60.5" y1="277.5" x2="991.5" y2="277.5"/>
<line x1="60.5" y1="256.5" x2="991.5" y2="256.5"/>
<line x1="60.5" y1="234.5" x2="991.5" y2="234.5"/>
<line x1="60.5" y1="213.5" x2="991.5" y2="213.5"/>
<line x1="60.5" y1="191.5" x2="991.5" y2="191.5"/>
<line x1="60.5" y1="170.5" x2="991.5" y2="170.5"/>
<line x1="60.5" y1="149.5" x2="991.5" y2="149.5"/>
<line x1="60.5" y1="127.5" x2="991.5" y2="127.5"/>
<line x1="60.5" y1="106.5" x2="991.5" y2="106.5"/>
<line x1="60.5" y1="84.5" x2="991.5" y2="84.5"/>
<line x1="60.5" y1="63.5" x2="991.5" y2="63.5"/>
</g>
<rect x="60.5" y="54.5" width="931.0" height="447.5" fill="none" stroke="#aaa" stroke-width="1.2"/>
<g font-size="17.5" fill="#777">
<text transform="translate(53,496.4)" text-anchor="end">2°S</text>
<text transform="translate(53,475.0)" text-anchor="end">0°</text>
<text transform="translate(53,453.6)" text-anchor="end">2°N</text>
<text transform="translate(53,432.1)" text-anchor="end">4°N</text>
<text transform="translate(53,410.7)" text-anchor="end">6°N</text>
<text transform="translate(53,389.2)" text-anchor="end">8°N</text>
<text transform="translate(53,367.8)" text-anchor="end">10°N</text>
<text transform="translate(53,346.4)" text-anchor="end">12°N</text>
<text transform="translate(53,324.9)" text-anchor="end">14°N</text>
<text transform="translate(53,303.5)" text-anchor="end">16°N</text>
<text transform="translate(53,282.0)" text-anchor="end">18°N</text>
<text transform="translate(53,260.6)" text-anchor="end">20°N</text>
<text transform="translate(53,239.2)" text-anchor="end">22°N</text>
<text transform="translate(53,217.7)" text-anchor="end">24°N</text>
<text transform="translate(53,196.3)" text-anchor="end">26°N</text>
<text transform="translate(53,174.8)" text-anchor="end">28°N</text>
<text transform="translate(53,153.4)" text-anchor="end">30°N</text>
<text transform="translate(53,132.0)" text-anchor="end">32°N</text>
<text transform="translate(53,110.5)" text-anchor="end">34°N</text>
<text transform="translate(53,89.1)" text-anchor="end">36°N</text>
<text transform="translate(53,67.6)" text-anchor="end">38°N</text>
<text transform="translate(81.6,522.3)" text-anchor="middle">28°W</text>
<text transform="translate(167.3,522.3)" text-anchor="middle">20°W</text>
<text transform="translate(253.0,522.3)" text-anchor="middle">12°W</text>
<text transform="translate(295.9,522.3)" text-anchor="middle">8°W</text>
<text transform="translate(338.7,522.3)" text-anchor="middle">4°W</text>
<text transform="translate(381.6,522.3)" text-anchor="middle">0°</text>
<text transform="translate(424.5,522.3)" text-anchor="middle">4°E</text>
<text transform="translate(467.3,522.3)" text-anchor="middle">8°E</text>
<text transform="translate(510.2,522.3)" text-anchor="middle">12°E</text>
<text transform="translate(553.0,522.3)" text-anchor="middle">16°E</text>
<text transform="translate(595.9,522.3)" text-anchor="middle">20°E</text>
<text transform="translate(638.7,522.3)" text-anchor="middle">24°E</text>
<text transform="translate(681.6,522.3)" text-anchor="middle">28°E</text>
<text transform="translate(724.4,522.3)" text-anchor="middle">32°E</text>
<text transform="translate(767.3,522.3)" text-anchor="middle">36°E</text>
<text transform="translate(810.2,522.3)" text-anchor="middle">40°E</text>
<text transform="translate(853.0,522.3)" text-anchor="middle">44°E</text>
<text transform="translate(895.9,522.3)" text-anchor="middle">48°E</text>
<text transform="translate(938.7,522.3)" text-anchor="middle">52°E</text>
<text transform="translate(981.6,522.3)" text-anchor="middle">56°E</text>
</g>
<rect x="153.50" y="571.0" width="67.98" height="20.0" fill="#8b0000"/>
<rect x="221.18" y="571.0" width="67.98" height="20.0" fill="#ff0000"/>
<rect x="288.86" y="571.0" width="67.98" height="20.0" fill="#ffa500"/>
<rect x="356.55" y="571.0" width="67.98" height="20.0" fill="#ffd700"/>
<rect x="424.23" y="571.0" width="67.98" height="20.0" fill="#ffff00"/>
<rect x="491.91" y="571.0" width="67.98" height="20.0" fill="#adc94f"/>
<rect x="559.59" y="571.0" width="67.98" height="20.0" fill="#008000"/>
<rect x="627.27" y="571.0" width="67.98" height="20.0" fill="#006400"/>
<rect x="694.95" y="571.0" width="67.98" height="20.0" fill="#0000ff"/>
<rect x="762.64" y="571.0" width="67.98" height="20.0" fill="#4169e1"/>
<rect x="830.32" y="571.0" width="67.98" height="20.0" fill="#800080"/>
<rect x="153.5" y="571.0" width="744.5" height="20.0" fill="none" stroke="#aaa" stroke-width="1.2"/>
<g font-size="13.6" fill="#111" text-anchor="middle">
<text transform="translate(153.5,606.8) scale(0.92,1)">-10</text>
<text transform="translate(221.2,606.8) scale(0.92,1)">-5</text>
<text transform="translate(288.9,606.8) scale(0.92,1)">0</text>
<text transform="translate(356.5,606.8) scale(0.92,1)">5</text>
<text transform="translate(424.2,606.8) scale(0.92,1)">10</text>
<text transform="translate(491.9,606.8) scale(0.92,1)">15</text>
<text transform="translate(559.6,606.8) scale(0.92,1)">20</text>
<text transform="translate(627.3,606.8) scale(0.92,1)">22</text>
<text transform="translate(695.0,606.8) scale(0.92,1)">24</text>
<text transform="translate(762.6,606.8) scale(0.92,1)">26</text>
<text transform="translate(830.3,606.8) scale(0.92,1)">28</text>
<text transform="translate(898.0,606.8) scale(0.92,1)">30</text>
<text x="417.7" y="626.8" text-anchor="start" font-size="14" textLength="216" lengthAdjust="spacingAndGlyphs">Température du point de rosée (°C)</text>
</g>
</svg></body></html>
